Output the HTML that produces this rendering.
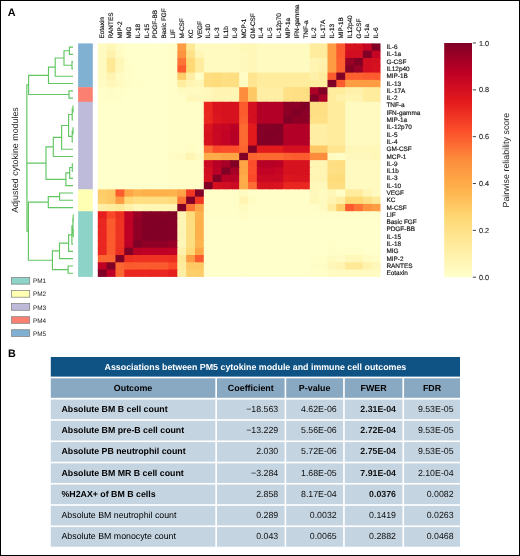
<!DOCTYPE html>
<html><head><meta charset="utf-8"><style>
html,body{margin:0;padding:0;background:#fff;}
body{width:520px;height:556px;position:relative;overflow:hidden;font-family:"Liberation Sans",sans-serif;}
svg{position:absolute;left:0;top:0;font-family:"Liberation Sans",sans-serif;will-change:transform;text-rendering:geometricPrecision;}
.frame{position:absolute;left:0;top:0;width:518px;height:554px;border:1px solid #000;}
</style></head><body>
<svg width="520" height="556" viewBox="0 0 520 556">
<defs><linearGradient id="cb" x1="0" y1="0" x2="0" y2="1"><stop offset="0.0000" stop-color="#800026"/><stop offset="0.1250" stop-color="#bd0026"/><stop offset="0.2500" stop-color="#e31a1c"/><stop offset="0.3750" stop-color="#fc4e2a"/><stop offset="0.5000" stop-color="#fd8d3c"/><stop offset="0.6250" stop-color="#feb24c"/><stop offset="0.7500" stop-color="#fed976"/><stop offset="0.8750" stop-color="#ffeda0"/><stop offset="1.0000" stop-color="#ffffcc"/></linearGradient></defs>
<rect x="97.80" y="43.40" width="9.83" height="8.30" fill="#fffac0"/>
<rect x="106.63" y="43.40" width="9.83" height="8.30" fill="#fff7b7"/>
<rect x="115.47" y="43.40" width="9.83" height="8.30" fill="#fffcc5"/>
<rect x="124.30" y="43.40" width="9.83" height="8.30" fill="#ffffcb"/>
<rect x="133.14" y="43.40" width="9.83" height="8.30" fill="#ffffcb"/>
<rect x="141.97" y="43.40" width="9.83" height="8.30" fill="#ffffcb"/>
<rect x="150.81" y="43.40" width="9.83" height="8.30" fill="#ffffcb"/>
<rect x="159.64" y="43.40" width="9.83" height="8.30" fill="#ffffcb"/>
<rect x="168.47" y="43.40" width="9.83" height="8.30" fill="#fffec9"/>
<rect x="177.31" y="43.40" width="9.83" height="8.30" fill="#fd9c42"/>
<rect x="186.14" y="43.40" width="9.83" height="8.30" fill="#ffe997"/>
<rect x="194.98" y="43.40" width="9.83" height="8.30" fill="#fffac0"/>
<rect x="203.81" y="43.40" width="9.83" height="8.30" fill="#fffac0"/>
<rect x="212.65" y="43.40" width="9.83" height="8.30" fill="#fffac0"/>
<rect x="221.48" y="43.40" width="9.83" height="8.30" fill="#fffac0"/>
<rect x="230.32" y="43.40" width="9.83" height="8.30" fill="#fffac0"/>
<rect x="239.15" y="43.40" width="9.83" height="8.30" fill="#fff7b7"/>
<rect x="247.98" y="43.40" width="9.83" height="8.30" fill="#fff7b7"/>
<rect x="256.82" y="43.40" width="9.83" height="8.30" fill="#fffac0"/>
<rect x="265.65" y="43.40" width="9.83" height="8.30" fill="#fffac0"/>
<rect x="274.49" y="43.40" width="9.83" height="8.30" fill="#fffac0"/>
<rect x="283.32" y="43.40" width="9.83" height="8.30" fill="#fffac0"/>
<rect x="292.16" y="43.40" width="9.83" height="8.30" fill="#fffac0"/>
<rect x="300.99" y="43.40" width="9.83" height="8.30" fill="#fffac0"/>
<rect x="309.82" y="43.40" width="9.83" height="8.30" fill="#ffec9d"/>
<rect x="318.66" y="43.40" width="9.83" height="8.30" fill="#ffec9d"/>
<rect x="327.49" y="43.40" width="9.83" height="8.30" fill="#fd9c42"/>
<rect x="336.33" y="43.40" width="9.83" height="8.30" fill="#fc5b2e"/>
<rect x="345.16" y="43.40" width="9.83" height="8.30" fill="#d7121f"/>
<rect x="354.00" y="43.40" width="9.83" height="8.30" fill="#d41020"/>
<rect x="362.83" y="43.40" width="9.83" height="8.30" fill="#c50524"/>
<rect x="371.67" y="43.40" width="8.83" height="8.30" fill="#800026"/>
<rect x="97.80" y="50.70" width="9.83" height="8.30" fill="#fffac0"/>
<rect x="106.63" y="50.70" width="9.83" height="8.30" fill="#fff2ad"/>
<rect x="115.47" y="50.70" width="9.83" height="8.30" fill="#fffbc2"/>
<rect x="124.30" y="50.70" width="9.83" height="8.30" fill="#ffffcb"/>
<rect x="133.14" y="50.70" width="9.83" height="8.30" fill="#ffffcb"/>
<rect x="141.97" y="50.70" width="9.83" height="8.30" fill="#ffffcb"/>
<rect x="150.81" y="50.70" width="9.83" height="8.30" fill="#ffffcb"/>
<rect x="159.64" y="50.70" width="9.83" height="8.30" fill="#ffffcb"/>
<rect x="168.47" y="50.70" width="9.83" height="8.30" fill="#fffec9"/>
<rect x="177.31" y="50.70" width="9.83" height="8.30" fill="#fd933f"/>
<rect x="186.14" y="50.70" width="9.83" height="8.30" fill="#fee187"/>
<rect x="194.98" y="50.70" width="9.83" height="8.30" fill="#fff5b4"/>
<rect x="203.81" y="50.70" width="9.83" height="8.30" fill="#fffac0"/>
<rect x="212.65" y="50.70" width="9.83" height="8.30" fill="#fffac0"/>
<rect x="221.48" y="50.70" width="9.83" height="8.30" fill="#fffac0"/>
<rect x="230.32" y="50.70" width="9.83" height="8.30" fill="#fffac0"/>
<rect x="239.15" y="50.70" width="9.83" height="8.30" fill="#fff8bc"/>
<rect x="247.98" y="50.70" width="9.83" height="8.30" fill="#fff7b7"/>
<rect x="256.82" y="50.70" width="9.83" height="8.30" fill="#fffac0"/>
<rect x="265.65" y="50.70" width="9.83" height="8.30" fill="#fffac0"/>
<rect x="274.49" y="50.70" width="9.83" height="8.30" fill="#fffac0"/>
<rect x="283.32" y="50.70" width="9.83" height="8.30" fill="#fffac0"/>
<rect x="292.16" y="50.70" width="9.83" height="8.30" fill="#fffac0"/>
<rect x="300.99" y="50.70" width="9.83" height="8.30" fill="#fffac0"/>
<rect x="309.82" y="50.70" width="9.83" height="8.30" fill="#ffec9d"/>
<rect x="318.66" y="50.70" width="9.83" height="8.30" fill="#ffec9d"/>
<rect x="327.49" y="50.70" width="9.83" height="8.30" fill="#fd9c42"/>
<rect x="336.33" y="50.70" width="9.83" height="8.30" fill="#fc5b2e"/>
<rect x="345.16" y="50.70" width="9.83" height="8.30" fill="#d10e21"/>
<rect x="354.00" y="50.70" width="9.83" height="8.30" fill="#d10e21"/>
<rect x="362.83" y="50.70" width="9.83" height="8.30" fill="#800026"/>
<rect x="371.67" y="50.70" width="8.83" height="8.30" fill="#c50524"/>
<rect x="97.80" y="57.99" width="9.83" height="8.30" fill="#fffac0"/>
<rect x="106.63" y="57.99" width="9.83" height="8.30" fill="#ffe997"/>
<rect x="115.47" y="57.99" width="9.83" height="8.30" fill="#fff7b7"/>
<rect x="124.30" y="57.99" width="9.83" height="8.30" fill="#fffec8"/>
<rect x="133.14" y="57.99" width="9.83" height="8.30" fill="#ffffcb"/>
<rect x="141.97" y="57.99" width="9.83" height="8.30" fill="#ffffcb"/>
<rect x="150.81" y="57.99" width="9.83" height="8.30" fill="#ffffcb"/>
<rect x="159.64" y="57.99" width="9.83" height="8.30" fill="#ffffcb"/>
<rect x="168.47" y="57.99" width="9.83" height="8.30" fill="#fffec9"/>
<rect x="177.31" y="57.99" width="9.83" height="8.30" fill="#fd7435"/>
<rect x="186.14" y="57.99" width="9.83" height="8.30" fill="#fed976"/>
<rect x="194.98" y="57.99" width="9.83" height="8.30" fill="#ffec9d"/>
<rect x="203.81" y="57.99" width="9.83" height="8.30" fill="#fffac0"/>
<rect x="212.65" y="57.99" width="9.83" height="8.30" fill="#fffac0"/>
<rect x="221.48" y="57.99" width="9.83" height="8.30" fill="#fffac0"/>
<rect x="230.32" y="57.99" width="9.83" height="8.30" fill="#fffac0"/>
<rect x="239.15" y="57.99" width="9.83" height="8.30" fill="#fff8bc"/>
<rect x="247.98" y="57.99" width="9.83" height="8.30" fill="#fff7b7"/>
<rect x="256.82" y="57.99" width="9.83" height="8.30" fill="#fffac0"/>
<rect x="265.65" y="57.99" width="9.83" height="8.30" fill="#fffac0"/>
<rect x="274.49" y="57.99" width="9.83" height="8.30" fill="#fffac0"/>
<rect x="283.32" y="57.99" width="9.83" height="8.30" fill="#fffac0"/>
<rect x="292.16" y="57.99" width="9.83" height="8.30" fill="#fffac0"/>
<rect x="300.99" y="57.99" width="9.83" height="8.30" fill="#fffac0"/>
<rect x="309.82" y="57.99" width="9.83" height="8.30" fill="#fff4b1"/>
<rect x="318.66" y="57.99" width="9.83" height="8.30" fill="#fff2ad"/>
<rect x="327.49" y="57.99" width="9.83" height="8.30" fill="#fd9c42"/>
<rect x="336.33" y="57.99" width="9.83" height="8.30" fill="#fc602f"/>
<rect x="345.16" y="57.99" width="9.83" height="8.30" fill="#980026"/>
<rect x="354.00" y="57.99" width="9.83" height="8.30" fill="#800026"/>
<rect x="362.83" y="57.99" width="9.83" height="8.30" fill="#d10e21"/>
<rect x="371.67" y="57.99" width="8.83" height="8.30" fill="#d41020"/>
<rect x="97.80" y="65.29" width="9.83" height="8.30" fill="#fffac0"/>
<rect x="106.63" y="65.29" width="9.83" height="8.30" fill="#ffe997"/>
<rect x="115.47" y="65.29" width="9.83" height="8.30" fill="#fff8bb"/>
<rect x="124.30" y="65.29" width="9.83" height="8.30" fill="#fffec8"/>
<rect x="133.14" y="65.29" width="9.83" height="8.30" fill="#ffffcb"/>
<rect x="141.97" y="65.29" width="9.83" height="8.30" fill="#ffffcb"/>
<rect x="150.81" y="65.29" width="9.83" height="8.30" fill="#ffffcb"/>
<rect x="159.64" y="65.29" width="9.83" height="8.30" fill="#ffffcb"/>
<rect x="168.47" y="65.29" width="9.83" height="8.30" fill="#fffec9"/>
<rect x="177.31" y="65.29" width="9.83" height="8.30" fill="#fc5b2e"/>
<rect x="186.14" y="65.29" width="9.83" height="8.30" fill="#fed976"/>
<rect x="194.98" y="65.29" width="9.83" height="8.30" fill="#ffec9d"/>
<rect x="203.81" y="65.29" width="9.83" height="8.30" fill="#fffac0"/>
<rect x="212.65" y="65.29" width="9.83" height="8.30" fill="#fffac0"/>
<rect x="221.48" y="65.29" width="9.83" height="8.30" fill="#fffac0"/>
<rect x="230.32" y="65.29" width="9.83" height="8.30" fill="#fffac0"/>
<rect x="239.15" y="65.29" width="9.83" height="8.30" fill="#fff8bc"/>
<rect x="247.98" y="65.29" width="9.83" height="8.30" fill="#fff7b7"/>
<rect x="256.82" y="65.29" width="9.83" height="8.30" fill="#fffac0"/>
<rect x="265.65" y="65.29" width="9.83" height="8.30" fill="#fffac0"/>
<rect x="274.49" y="65.29" width="9.83" height="8.30" fill="#fffac0"/>
<rect x="283.32" y="65.29" width="9.83" height="8.30" fill="#fffac0"/>
<rect x="292.16" y="65.29" width="9.83" height="8.30" fill="#fffac0"/>
<rect x="300.99" y="65.29" width="9.83" height="8.30" fill="#fffac0"/>
<rect x="309.82" y="65.29" width="9.83" height="8.30" fill="#fff4b1"/>
<rect x="318.66" y="65.29" width="9.83" height="8.30" fill="#fff1a9"/>
<rect x="327.49" y="65.29" width="9.83" height="8.30" fill="#fd9c42"/>
<rect x="336.33" y="65.29" width="9.83" height="8.30" fill="#fc602f"/>
<rect x="345.16" y="65.29" width="9.83" height="8.30" fill="#800026"/>
<rect x="354.00" y="65.29" width="9.83" height="8.30" fill="#980026"/>
<rect x="362.83" y="65.29" width="9.83" height="8.30" fill="#d10e21"/>
<rect x="371.67" y="65.29" width="8.83" height="8.30" fill="#d7121f"/>
<rect x="97.80" y="72.59" width="9.83" height="8.30" fill="#fffac0"/>
<rect x="106.63" y="72.59" width="9.83" height="8.30" fill="#fff4b1"/>
<rect x="115.47" y="72.59" width="9.83" height="8.30" fill="#fffbc2"/>
<rect x="124.30" y="72.59" width="9.83" height="8.30" fill="#fffec8"/>
<rect x="133.14" y="72.59" width="9.83" height="8.30" fill="#ffffcb"/>
<rect x="141.97" y="72.59" width="9.83" height="8.30" fill="#ffffcb"/>
<rect x="150.81" y="72.59" width="9.83" height="8.30" fill="#ffffcb"/>
<rect x="159.64" y="72.59" width="9.83" height="8.30" fill="#ffffcb"/>
<rect x="168.47" y="72.59" width="9.83" height="8.30" fill="#fffec9"/>
<rect x="177.31" y="72.59" width="9.83" height="8.30" fill="#fecd69"/>
<rect x="186.14" y="72.59" width="9.83" height="8.30" fill="#ffeea3"/>
<rect x="194.98" y="72.59" width="9.83" height="8.30" fill="#fffdc8"/>
<rect x="203.81" y="72.59" width="9.83" height="8.30" fill="#fede80"/>
<rect x="212.65" y="72.59" width="9.83" height="8.30" fill="#fedb7b"/>
<rect x="221.48" y="72.59" width="9.83" height="8.30" fill="#fedf83"/>
<rect x="230.32" y="72.59" width="9.83" height="8.30" fill="#fede80"/>
<rect x="239.15" y="72.59" width="9.83" height="8.30" fill="#fffcc5"/>
<rect x="247.98" y="72.59" width="9.83" height="8.30" fill="#ffe590"/>
<rect x="256.82" y="72.59" width="9.83" height="8.30" fill="#ffec9d"/>
<rect x="265.65" y="72.59" width="9.83" height="8.30" fill="#ffec9d"/>
<rect x="274.49" y="72.59" width="9.83" height="8.30" fill="#ffec9d"/>
<rect x="283.32" y="72.59" width="9.83" height="8.30" fill="#ffec9d"/>
<rect x="292.16" y="72.59" width="9.83" height="8.30" fill="#ffec9d"/>
<rect x="300.99" y="72.59" width="9.83" height="8.30" fill="#ffec9d"/>
<rect x="309.82" y="72.59" width="9.83" height="8.30" fill="#fff1a9"/>
<rect x="318.66" y="72.59" width="9.83" height="8.30" fill="#ffec9d"/>
<rect x="327.49" y="72.59" width="9.83" height="8.30" fill="#fc5b2e"/>
<rect x="336.33" y="72.59" width="9.83" height="8.30" fill="#800026"/>
<rect x="345.16" y="72.59" width="9.83" height="8.30" fill="#fc602f"/>
<rect x="354.00" y="72.59" width="9.83" height="8.30" fill="#fc602f"/>
<rect x="362.83" y="72.59" width="9.83" height="8.30" fill="#fc5b2e"/>
<rect x="371.67" y="72.59" width="8.83" height="8.30" fill="#fc5b2e"/>
<rect x="97.80" y="79.88" width="9.83" height="8.30" fill="#fffbc2"/>
<rect x="106.63" y="79.88" width="9.83" height="8.30" fill="#fff7b9"/>
<rect x="115.47" y="79.88" width="9.83" height="8.30" fill="#fffabf"/>
<rect x="124.30" y="79.88" width="9.83" height="8.30" fill="#fffdc7"/>
<rect x="133.14" y="79.88" width="9.83" height="8.30" fill="#fffec8"/>
<rect x="141.97" y="79.88" width="9.83" height="8.30" fill="#ffffcb"/>
<rect x="150.81" y="79.88" width="9.83" height="8.30" fill="#ffffcb"/>
<rect x="159.64" y="79.88" width="9.83" height="8.30" fill="#ffffcb"/>
<rect x="168.47" y="79.88" width="9.83" height="8.30" fill="#fffec9"/>
<rect x="177.31" y="79.88" width="9.83" height="8.30" fill="#ffec9d"/>
<rect x="186.14" y="79.88" width="9.83" height="8.30" fill="#fff4b1"/>
<rect x="194.98" y="79.88" width="9.83" height="8.30" fill="#fff7b7"/>
<rect x="203.81" y="79.88" width="9.83" height="8.30" fill="#fede80"/>
<rect x="212.65" y="79.88" width="9.83" height="8.30" fill="#fedb7b"/>
<rect x="221.48" y="79.88" width="9.83" height="8.30" fill="#fedf83"/>
<rect x="230.32" y="79.88" width="9.83" height="8.30" fill="#fedf83"/>
<rect x="239.15" y="79.88" width="9.83" height="8.30" fill="#fffac0"/>
<rect x="247.98" y="79.88" width="9.83" height="8.30" fill="#ffe590"/>
<rect x="256.82" y="79.88" width="9.83" height="8.30" fill="#ffec9d"/>
<rect x="265.65" y="79.88" width="9.83" height="8.30" fill="#ffec9d"/>
<rect x="274.49" y="79.88" width="9.83" height="8.30" fill="#ffec9d"/>
<rect x="283.32" y="79.88" width="9.83" height="8.30" fill="#ffec9d"/>
<rect x="292.16" y="79.88" width="9.83" height="8.30" fill="#ffec9d"/>
<rect x="300.99" y="79.88" width="9.83" height="8.30" fill="#ffec9d"/>
<rect x="309.82" y="79.88" width="9.83" height="8.30" fill="#ffec9d"/>
<rect x="318.66" y="79.88" width="9.83" height="8.30" fill="#ffec9d"/>
<rect x="327.49" y="79.88" width="9.83" height="8.30" fill="#800026"/>
<rect x="336.33" y="79.88" width="9.83" height="8.30" fill="#fc5b2e"/>
<rect x="345.16" y="79.88" width="9.83" height="8.30" fill="#fd9c42"/>
<rect x="354.00" y="79.88" width="9.83" height="8.30" fill="#fd9c42"/>
<rect x="362.83" y="79.88" width="9.83" height="8.30" fill="#fd9c42"/>
<rect x="371.67" y="79.88" width="8.83" height="8.30" fill="#fd9c42"/>
<rect x="97.80" y="87.18" width="9.83" height="8.30" fill="#fffec8"/>
<rect x="106.63" y="87.18" width="9.83" height="8.30" fill="#fffdc6"/>
<rect x="115.47" y="87.18" width="9.83" height="8.30" fill="#fffec8"/>
<rect x="124.30" y="87.18" width="9.83" height="8.30" fill="#ffffcb"/>
<rect x="133.14" y="87.18" width="9.83" height="8.30" fill="#ffffcb"/>
<rect x="141.97" y="87.18" width="9.83" height="8.30" fill="#ffffcb"/>
<rect x="150.81" y="87.18" width="9.83" height="8.30" fill="#ffffcb"/>
<rect x="159.64" y="87.18" width="9.83" height="8.30" fill="#ffffcb"/>
<rect x="168.47" y="87.18" width="9.83" height="8.30" fill="#fffec9"/>
<rect x="177.31" y="87.18" width="9.83" height="8.30" fill="#fffac0"/>
<rect x="186.14" y="87.18" width="9.83" height="8.30" fill="#fffac0"/>
<rect x="194.98" y="87.18" width="9.83" height="8.30" fill="#fffac0"/>
<rect x="203.81" y="87.18" width="9.83" height="8.30" fill="#fff8bc"/>
<rect x="212.65" y="87.18" width="9.83" height="8.30" fill="#fff4b1"/>
<rect x="221.48" y="87.18" width="9.83" height="8.30" fill="#fff4b1"/>
<rect x="230.32" y="87.18" width="9.83" height="8.30" fill="#fff5b4"/>
<rect x="239.15" y="87.18" width="9.83" height="8.30" fill="#fd8d3c"/>
<rect x="247.98" y="87.18" width="9.83" height="8.30" fill="#fec965"/>
<rect x="256.82" y="87.18" width="9.83" height="8.30" fill="#ffeea3"/>
<rect x="265.65" y="87.18" width="9.83" height="8.30" fill="#ffeea3"/>
<rect x="274.49" y="87.18" width="9.83" height="8.30" fill="#ffeea3"/>
<rect x="283.32" y="87.18" width="9.83" height="8.30" fill="#fee187"/>
<rect x="292.16" y="87.18" width="9.83" height="8.30" fill="#fedf83"/>
<rect x="300.99" y="87.18" width="9.83" height="8.30" fill="#fedf83"/>
<rect x="309.82" y="87.18" width="9.83" height="8.30" fill="#ac0026"/>
<rect x="318.66" y="87.18" width="9.83" height="8.30" fill="#800026"/>
<rect x="327.49" y="87.18" width="9.83" height="8.30" fill="#ffec9d"/>
<rect x="336.33" y="87.18" width="9.83" height="8.30" fill="#ffec9d"/>
<rect x="345.16" y="87.18" width="9.83" height="8.30" fill="#fff1a9"/>
<rect x="354.00" y="87.18" width="9.83" height="8.30" fill="#fff2ad"/>
<rect x="362.83" y="87.18" width="9.83" height="8.30" fill="#ffec9d"/>
<rect x="371.67" y="87.18" width="8.83" height="8.30" fill="#ffec9d"/>
<rect x="97.80" y="94.48" width="9.83" height="8.30" fill="#fffec8"/>
<rect x="106.63" y="94.48" width="9.83" height="8.30" fill="#fffdc7"/>
<rect x="115.47" y="94.48" width="9.83" height="8.30" fill="#fffec8"/>
<rect x="124.30" y="94.48" width="9.83" height="8.30" fill="#ffffcb"/>
<rect x="133.14" y="94.48" width="9.83" height="8.30" fill="#ffffcb"/>
<rect x="141.97" y="94.48" width="9.83" height="8.30" fill="#ffffcb"/>
<rect x="150.81" y="94.48" width="9.83" height="8.30" fill="#ffffcb"/>
<rect x="159.64" y="94.48" width="9.83" height="8.30" fill="#ffffcb"/>
<rect x="168.47" y="94.48" width="9.83" height="8.30" fill="#fffec9"/>
<rect x="177.31" y="94.48" width="9.83" height="8.30" fill="#fffdc7"/>
<rect x="186.14" y="94.48" width="9.83" height="8.30" fill="#fff7b7"/>
<rect x="194.98" y="94.48" width="9.83" height="8.30" fill="#fff8bc"/>
<rect x="203.81" y="94.48" width="9.83" height="8.30" fill="#fff7b9"/>
<rect x="212.65" y="94.48" width="9.83" height="8.30" fill="#fff4b1"/>
<rect x="221.48" y="94.48" width="9.83" height="8.30" fill="#fff5b4"/>
<rect x="230.32" y="94.48" width="9.83" height="8.30" fill="#fff5b4"/>
<rect x="239.15" y="94.48" width="9.83" height="8.30" fill="#fd8d3c"/>
<rect x="247.98" y="94.48" width="9.83" height="8.30" fill="#fec965"/>
<rect x="256.82" y="94.48" width="9.83" height="8.30" fill="#ffeea3"/>
<rect x="265.65" y="94.48" width="9.83" height="8.30" fill="#ffeea3"/>
<rect x="274.49" y="94.48" width="9.83" height="8.30" fill="#ffeea3"/>
<rect x="283.32" y="94.48" width="9.83" height="8.30" fill="#fee187"/>
<rect x="292.16" y="94.48" width="9.83" height="8.30" fill="#fedf83"/>
<rect x="300.99" y="94.48" width="9.83" height="8.30" fill="#fedf83"/>
<rect x="309.82" y="94.48" width="9.83" height="8.30" fill="#800026"/>
<rect x="318.66" y="94.48" width="9.83" height="8.30" fill="#ac0026"/>
<rect x="327.49" y="94.48" width="9.83" height="8.30" fill="#ffec9d"/>
<rect x="336.33" y="94.48" width="9.83" height="8.30" fill="#fff1a9"/>
<rect x="345.16" y="94.48" width="9.83" height="8.30" fill="#fff4b1"/>
<rect x="354.00" y="94.48" width="9.83" height="8.30" fill="#fff4b1"/>
<rect x="362.83" y="94.48" width="9.83" height="8.30" fill="#ffec9d"/>
<rect x="371.67" y="94.48" width="8.83" height="8.30" fill="#ffec9d"/>
<rect x="97.80" y="101.77" width="9.83" height="8.30" fill="#ffffcb"/>
<rect x="106.63" y="101.77" width="9.83" height="8.30" fill="#ffffcb"/>
<rect x="115.47" y="101.77" width="9.83" height="8.30" fill="#ffffcb"/>
<rect x="124.30" y="101.77" width="9.83" height="8.30" fill="#ffffcb"/>
<rect x="133.14" y="101.77" width="9.83" height="8.30" fill="#ffffcb"/>
<rect x="141.97" y="101.77" width="9.83" height="8.30" fill="#ffffcb"/>
<rect x="150.81" y="101.77" width="9.83" height="8.30" fill="#ffffcb"/>
<rect x="159.64" y="101.77" width="9.83" height="8.30" fill="#ffffcb"/>
<rect x="168.47" y="101.77" width="9.83" height="8.30" fill="#fffec9"/>
<rect x="177.31" y="101.77" width="9.83" height="8.30" fill="#fffec9"/>
<rect x="186.14" y="101.77" width="9.83" height="8.30" fill="#fffec9"/>
<rect x="194.98" y="101.77" width="9.83" height="8.30" fill="#fffec9"/>
<rect x="203.81" y="101.77" width="9.83" height="8.30" fill="#e9261f"/>
<rect x="212.65" y="101.77" width="9.83" height="8.30" fill="#da141e"/>
<rect x="221.48" y="101.77" width="9.83" height="8.30" fill="#d7121f"/>
<rect x="230.32" y="101.77" width="9.83" height="8.30" fill="#d7121f"/>
<rect x="239.15" y="101.77" width="9.83" height="8.30" fill="#fc5b2e"/>
<rect x="247.98" y="101.77" width="9.83" height="8.30" fill="#d41020"/>
<rect x="256.82" y="101.77" width="9.83" height="8.30" fill="#b30026"/>
<rect x="265.65" y="101.77" width="9.83" height="8.30" fill="#b30026"/>
<rect x="274.49" y="101.77" width="9.83" height="8.30" fill="#b30026"/>
<rect x="283.32" y="101.77" width="9.83" height="8.30" fill="#8c0026"/>
<rect x="292.16" y="101.77" width="9.83" height="8.30" fill="#8a0026"/>
<rect x="300.99" y="101.77" width="9.83" height="8.30" fill="#800026"/>
<rect x="309.82" y="101.77" width="9.83" height="8.30" fill="#fedf83"/>
<rect x="318.66" y="101.77" width="9.83" height="8.30" fill="#fedf83"/>
<rect x="327.49" y="101.77" width="9.83" height="8.30" fill="#ffec9d"/>
<rect x="336.33" y="101.77" width="9.83" height="8.30" fill="#ffec9d"/>
<rect x="345.16" y="101.77" width="9.83" height="8.30" fill="#fffac0"/>
<rect x="354.00" y="101.77" width="9.83" height="8.30" fill="#fffac0"/>
<rect x="362.83" y="101.77" width="9.83" height="8.30" fill="#fffac0"/>
<rect x="371.67" y="101.77" width="8.83" height="8.30" fill="#fffac0"/>
<rect x="97.80" y="109.07" width="9.83" height="8.30" fill="#ffffcb"/>
<rect x="106.63" y="109.07" width="9.83" height="8.30" fill="#ffffcb"/>
<rect x="115.47" y="109.07" width="9.83" height="8.30" fill="#ffffcb"/>
<rect x="124.30" y="109.07" width="9.83" height="8.30" fill="#ffffcb"/>
<rect x="133.14" y="109.07" width="9.83" height="8.30" fill="#ffffcb"/>
<rect x="141.97" y="109.07" width="9.83" height="8.30" fill="#ffffcb"/>
<rect x="150.81" y="109.07" width="9.83" height="8.30" fill="#ffffcb"/>
<rect x="159.64" y="109.07" width="9.83" height="8.30" fill="#ffffcb"/>
<rect x="168.47" y="109.07" width="9.83" height="8.30" fill="#fffec9"/>
<rect x="177.31" y="109.07" width="9.83" height="8.30" fill="#fffec9"/>
<rect x="186.14" y="109.07" width="9.83" height="8.30" fill="#fffec9"/>
<rect x="194.98" y="109.07" width="9.83" height="8.30" fill="#fffec9"/>
<rect x="203.81" y="109.07" width="9.83" height="8.30" fill="#e9261f"/>
<rect x="212.65" y="109.07" width="9.83" height="8.30" fill="#da141e"/>
<rect x="221.48" y="109.07" width="9.83" height="8.30" fill="#d7121f"/>
<rect x="230.32" y="109.07" width="9.83" height="8.30" fill="#d7121f"/>
<rect x="239.15" y="109.07" width="9.83" height="8.30" fill="#fc5b2e"/>
<rect x="247.98" y="109.07" width="9.83" height="8.30" fill="#d41020"/>
<rect x="256.82" y="109.07" width="9.83" height="8.30" fill="#b30026"/>
<rect x="265.65" y="109.07" width="9.83" height="8.30" fill="#b30026"/>
<rect x="274.49" y="109.07" width="9.83" height="8.30" fill="#b30026"/>
<rect x="283.32" y="109.07" width="9.83" height="8.30" fill="#8c0026"/>
<rect x="292.16" y="109.07" width="9.83" height="8.30" fill="#800026"/>
<rect x="300.99" y="109.07" width="9.83" height="8.30" fill="#8a0026"/>
<rect x="309.82" y="109.07" width="9.83" height="8.30" fill="#fedf83"/>
<rect x="318.66" y="109.07" width="9.83" height="8.30" fill="#fedf83"/>
<rect x="327.49" y="109.07" width="9.83" height="8.30" fill="#ffec9d"/>
<rect x="336.33" y="109.07" width="9.83" height="8.30" fill="#ffec9d"/>
<rect x="345.16" y="109.07" width="9.83" height="8.30" fill="#fffac0"/>
<rect x="354.00" y="109.07" width="9.83" height="8.30" fill="#fffac0"/>
<rect x="362.83" y="109.07" width="9.83" height="8.30" fill="#fffac0"/>
<rect x="371.67" y="109.07" width="8.83" height="8.30" fill="#fffac0"/>
<rect x="97.80" y="116.37" width="9.83" height="8.30" fill="#ffffcb"/>
<rect x="106.63" y="116.37" width="9.83" height="8.30" fill="#ffffcb"/>
<rect x="115.47" y="116.37" width="9.83" height="8.30" fill="#ffffcb"/>
<rect x="124.30" y="116.37" width="9.83" height="8.30" fill="#ffffcb"/>
<rect x="133.14" y="116.37" width="9.83" height="8.30" fill="#ffffcb"/>
<rect x="141.97" y="116.37" width="9.83" height="8.30" fill="#ffffcb"/>
<rect x="150.81" y="116.37" width="9.83" height="8.30" fill="#ffffcb"/>
<rect x="159.64" y="116.37" width="9.83" height="8.30" fill="#ffffcb"/>
<rect x="168.47" y="116.37" width="9.83" height="8.30" fill="#fffec9"/>
<rect x="177.31" y="116.37" width="9.83" height="8.30" fill="#fffec9"/>
<rect x="186.14" y="116.37" width="9.83" height="8.30" fill="#fffec9"/>
<rect x="194.98" y="116.37" width="9.83" height="8.30" fill="#fffec9"/>
<rect x="203.81" y="116.37" width="9.83" height="8.30" fill="#e9261f"/>
<rect x="212.65" y="116.37" width="9.83" height="8.30" fill="#dd161e"/>
<rect x="221.48" y="116.37" width="9.83" height="8.30" fill="#d7121f"/>
<rect x="230.32" y="116.37" width="9.83" height="8.30" fill="#d7121f"/>
<rect x="239.15" y="116.37" width="9.83" height="8.30" fill="#fc602f"/>
<rect x="247.98" y="116.37" width="9.83" height="8.30" fill="#d41020"/>
<rect x="256.82" y="116.37" width="9.83" height="8.30" fill="#b30026"/>
<rect x="265.65" y="116.37" width="9.83" height="8.30" fill="#b30026"/>
<rect x="274.49" y="116.37" width="9.83" height="8.30" fill="#b30026"/>
<rect x="283.32" y="116.37" width="9.83" height="8.30" fill="#800026"/>
<rect x="292.16" y="116.37" width="9.83" height="8.30" fill="#8c0026"/>
<rect x="300.99" y="116.37" width="9.83" height="8.30" fill="#8c0026"/>
<rect x="309.82" y="116.37" width="9.83" height="8.30" fill="#fee187"/>
<rect x="318.66" y="116.37" width="9.83" height="8.30" fill="#fee187"/>
<rect x="327.49" y="116.37" width="9.83" height="8.30" fill="#ffec9d"/>
<rect x="336.33" y="116.37" width="9.83" height="8.30" fill="#ffec9d"/>
<rect x="345.16" y="116.37" width="9.83" height="8.30" fill="#fffac0"/>
<rect x="354.00" y="116.37" width="9.83" height="8.30" fill="#fffac0"/>
<rect x="362.83" y="116.37" width="9.83" height="8.30" fill="#fffac0"/>
<rect x="371.67" y="116.37" width="8.83" height="8.30" fill="#fffac0"/>
<rect x="97.80" y="123.67" width="9.83" height="8.30" fill="#ffffcb"/>
<rect x="106.63" y="123.67" width="9.83" height="8.30" fill="#ffffcb"/>
<rect x="115.47" y="123.67" width="9.83" height="8.30" fill="#ffffcb"/>
<rect x="124.30" y="123.67" width="9.83" height="8.30" fill="#ffffcb"/>
<rect x="133.14" y="123.67" width="9.83" height="8.30" fill="#ffffcb"/>
<rect x="141.97" y="123.67" width="9.83" height="8.30" fill="#ffffcb"/>
<rect x="150.81" y="123.67" width="9.83" height="8.30" fill="#ffffcb"/>
<rect x="159.64" y="123.67" width="9.83" height="8.30" fill="#ffffcb"/>
<rect x="168.47" y="123.67" width="9.83" height="8.30" fill="#fffec9"/>
<rect x="177.31" y="123.67" width="9.83" height="8.30" fill="#fffec9"/>
<rect x="186.14" y="123.67" width="9.83" height="8.30" fill="#fffec9"/>
<rect x="194.98" y="123.67" width="9.83" height="8.30" fill="#fffec9"/>
<rect x="203.81" y="123.67" width="9.83" height="8.30" fill="#da141e"/>
<rect x="212.65" y="123.67" width="9.83" height="8.30" fill="#c90823"/>
<rect x="221.48" y="123.67" width="9.83" height="8.30" fill="#c60624"/>
<rect x="230.32" y="123.67" width="9.83" height="8.30" fill="#bb0026"/>
<rect x="239.15" y="123.67" width="9.83" height="8.30" fill="#fc6a32"/>
<rect x="247.98" y="123.67" width="9.83" height="8.30" fill="#e31a1c"/>
<rect x="256.82" y="123.67" width="9.83" height="8.30" fill="#850026"/>
<rect x="265.65" y="123.67" width="9.83" height="8.30" fill="#850026"/>
<rect x="274.49" y="123.67" width="9.83" height="8.30" fill="#800026"/>
<rect x="283.32" y="123.67" width="9.83" height="8.30" fill="#b30026"/>
<rect x="292.16" y="123.67" width="9.83" height="8.30" fill="#b30026"/>
<rect x="300.99" y="123.67" width="9.83" height="8.30" fill="#b30026"/>
<rect x="309.82" y="123.67" width="9.83" height="8.30" fill="#ffeea3"/>
<rect x="318.66" y="123.67" width="9.83" height="8.30" fill="#ffeea3"/>
<rect x="327.49" y="123.67" width="9.83" height="8.30" fill="#ffec9d"/>
<rect x="336.33" y="123.67" width="9.83" height="8.30" fill="#ffec9d"/>
<rect x="345.16" y="123.67" width="9.83" height="8.30" fill="#fffac0"/>
<rect x="354.00" y="123.67" width="9.83" height="8.30" fill="#fffac0"/>
<rect x="362.83" y="123.67" width="9.83" height="8.30" fill="#fffac0"/>
<rect x="371.67" y="123.67" width="8.83" height="8.30" fill="#fffac0"/>
<rect x="97.80" y="130.96" width="9.83" height="8.30" fill="#ffffcb"/>
<rect x="106.63" y="130.96" width="9.83" height="8.30" fill="#ffffcb"/>
<rect x="115.47" y="130.96" width="9.83" height="8.30" fill="#ffffcb"/>
<rect x="124.30" y="130.96" width="9.83" height="8.30" fill="#ffffcb"/>
<rect x="133.14" y="130.96" width="9.83" height="8.30" fill="#ffffcb"/>
<rect x="141.97" y="130.96" width="9.83" height="8.30" fill="#ffffcb"/>
<rect x="150.81" y="130.96" width="9.83" height="8.30" fill="#ffffcb"/>
<rect x="159.64" y="130.96" width="9.83" height="8.30" fill="#ffffcb"/>
<rect x="168.47" y="130.96" width="9.83" height="8.30" fill="#fffec9"/>
<rect x="177.31" y="130.96" width="9.83" height="8.30" fill="#fffec9"/>
<rect x="186.14" y="130.96" width="9.83" height="8.30" fill="#fffec9"/>
<rect x="194.98" y="130.96" width="9.83" height="8.30" fill="#fffec9"/>
<rect x="203.81" y="130.96" width="9.83" height="8.30" fill="#d7121f"/>
<rect x="212.65" y="130.96" width="9.83" height="8.30" fill="#c90823"/>
<rect x="221.48" y="130.96" width="9.83" height="8.30" fill="#c20325"/>
<rect x="230.32" y="130.96" width="9.83" height="8.30" fill="#b60026"/>
<rect x="239.15" y="130.96" width="9.83" height="8.30" fill="#fc6a32"/>
<rect x="247.98" y="130.96" width="9.83" height="8.30" fill="#e31a1c"/>
<rect x="256.82" y="130.96" width="9.83" height="8.30" fill="#850026"/>
<rect x="265.65" y="130.96" width="9.83" height="8.30" fill="#800026"/>
<rect x="274.49" y="130.96" width="9.83" height="8.30" fill="#850026"/>
<rect x="283.32" y="130.96" width="9.83" height="8.30" fill="#b30026"/>
<rect x="292.16" y="130.96" width="9.83" height="8.30" fill="#b30026"/>
<rect x="300.99" y="130.96" width="9.83" height="8.30" fill="#b30026"/>
<rect x="309.82" y="130.96" width="9.83" height="8.30" fill="#ffeea3"/>
<rect x="318.66" y="130.96" width="9.83" height="8.30" fill="#ffeea3"/>
<rect x="327.49" y="130.96" width="9.83" height="8.30" fill="#ffec9d"/>
<rect x="336.33" y="130.96" width="9.83" height="8.30" fill="#ffec9d"/>
<rect x="345.16" y="130.96" width="9.83" height="8.30" fill="#fffac0"/>
<rect x="354.00" y="130.96" width="9.83" height="8.30" fill="#fffac0"/>
<rect x="362.83" y="130.96" width="9.83" height="8.30" fill="#fffac0"/>
<rect x="371.67" y="130.96" width="8.83" height="8.30" fill="#fffac0"/>
<rect x="97.80" y="138.26" width="9.83" height="8.30" fill="#ffffcb"/>
<rect x="106.63" y="138.26" width="9.83" height="8.30" fill="#ffffcb"/>
<rect x="115.47" y="138.26" width="9.83" height="8.30" fill="#ffffcb"/>
<rect x="124.30" y="138.26" width="9.83" height="8.30" fill="#ffffcb"/>
<rect x="133.14" y="138.26" width="9.83" height="8.30" fill="#ffffcb"/>
<rect x="141.97" y="138.26" width="9.83" height="8.30" fill="#ffffcb"/>
<rect x="150.81" y="138.26" width="9.83" height="8.30" fill="#ffffcb"/>
<rect x="159.64" y="138.26" width="9.83" height="8.30" fill="#ffffcb"/>
<rect x="168.47" y="138.26" width="9.83" height="8.30" fill="#fffec9"/>
<rect x="177.31" y="138.26" width="9.83" height="8.30" fill="#fffec9"/>
<rect x="186.14" y="138.26" width="9.83" height="8.30" fill="#fffec9"/>
<rect x="194.98" y="138.26" width="9.83" height="8.30" fill="#fffec9"/>
<rect x="203.81" y="138.26" width="9.83" height="8.30" fill="#d7121f"/>
<rect x="212.65" y="138.26" width="9.83" height="8.30" fill="#c90823"/>
<rect x="221.48" y="138.26" width="9.83" height="8.30" fill="#c20325"/>
<rect x="230.32" y="138.26" width="9.83" height="8.30" fill="#b60026"/>
<rect x="239.15" y="138.26" width="9.83" height="8.30" fill="#fc6a32"/>
<rect x="247.98" y="138.26" width="9.83" height="8.30" fill="#e31a1c"/>
<rect x="256.82" y="138.26" width="9.83" height="8.30" fill="#800026"/>
<rect x="265.65" y="138.26" width="9.83" height="8.30" fill="#850026"/>
<rect x="274.49" y="138.26" width="9.83" height="8.30" fill="#850026"/>
<rect x="283.32" y="138.26" width="9.83" height="8.30" fill="#b30026"/>
<rect x="292.16" y="138.26" width="9.83" height="8.30" fill="#b30026"/>
<rect x="300.99" y="138.26" width="9.83" height="8.30" fill="#b30026"/>
<rect x="309.82" y="138.26" width="9.83" height="8.30" fill="#ffeea3"/>
<rect x="318.66" y="138.26" width="9.83" height="8.30" fill="#ffeea3"/>
<rect x="327.49" y="138.26" width="9.83" height="8.30" fill="#ffec9d"/>
<rect x="336.33" y="138.26" width="9.83" height="8.30" fill="#ffec9d"/>
<rect x="345.16" y="138.26" width="9.83" height="8.30" fill="#fffac0"/>
<rect x="354.00" y="138.26" width="9.83" height="8.30" fill="#fffac0"/>
<rect x="362.83" y="138.26" width="9.83" height="8.30" fill="#fffac0"/>
<rect x="371.67" y="138.26" width="8.83" height="8.30" fill="#fffac0"/>
<rect x="97.80" y="145.56" width="9.83" height="8.30" fill="#ffffcb"/>
<rect x="106.63" y="145.56" width="9.83" height="8.30" fill="#ffffcb"/>
<rect x="115.47" y="145.56" width="9.83" height="8.30" fill="#ffffcb"/>
<rect x="124.30" y="145.56" width="9.83" height="8.30" fill="#ffffcb"/>
<rect x="133.14" y="145.56" width="9.83" height="8.30" fill="#ffffcb"/>
<rect x="141.97" y="145.56" width="9.83" height="8.30" fill="#ffffcb"/>
<rect x="150.81" y="145.56" width="9.83" height="8.30" fill="#ffffcb"/>
<rect x="159.64" y="145.56" width="9.83" height="8.30" fill="#ffffcb"/>
<rect x="168.47" y="145.56" width="9.83" height="8.30" fill="#fffec9"/>
<rect x="177.31" y="145.56" width="9.83" height="8.30" fill="#fffec9"/>
<rect x="186.14" y="145.56" width="9.83" height="8.30" fill="#fffcc4"/>
<rect x="194.98" y="145.56" width="9.83" height="8.30" fill="#fffec9"/>
<rect x="203.81" y="145.56" width="9.83" height="8.30" fill="#fc6c33"/>
<rect x="212.65" y="145.56" width="9.83" height="8.30" fill="#fa4a29"/>
<rect x="221.48" y="145.56" width="9.83" height="8.30" fill="#fc4e2a"/>
<rect x="230.32" y="145.56" width="9.83" height="8.30" fill="#fc4e2a"/>
<rect x="239.15" y="145.56" width="9.83" height="8.30" fill="#fc6530"/>
<rect x="247.98" y="145.56" width="9.83" height="8.30" fill="#800026"/>
<rect x="256.82" y="145.56" width="9.83" height="8.30" fill="#e31a1c"/>
<rect x="265.65" y="145.56" width="9.83" height="8.30" fill="#e31a1c"/>
<rect x="274.49" y="145.56" width="9.83" height="8.30" fill="#e31a1c"/>
<rect x="283.32" y="145.56" width="9.83" height="8.30" fill="#d41020"/>
<rect x="292.16" y="145.56" width="9.83" height="8.30" fill="#d41020"/>
<rect x="300.99" y="145.56" width="9.83" height="8.30" fill="#d41020"/>
<rect x="309.82" y="145.56" width="9.83" height="8.30" fill="#fec965"/>
<rect x="318.66" y="145.56" width="9.83" height="8.30" fill="#fec965"/>
<rect x="327.49" y="145.56" width="9.83" height="8.30" fill="#ffe590"/>
<rect x="336.33" y="145.56" width="9.83" height="8.30" fill="#ffe590"/>
<rect x="345.16" y="145.56" width="9.83" height="8.30" fill="#fff7b7"/>
<rect x="354.00" y="145.56" width="9.83" height="8.30" fill="#fff7b7"/>
<rect x="362.83" y="145.56" width="9.83" height="8.30" fill="#fff7b7"/>
<rect x="371.67" y="145.56" width="8.83" height="8.30" fill="#fff7b7"/>
<rect x="97.80" y="152.85" width="9.83" height="8.30" fill="#ffffcb"/>
<rect x="106.63" y="152.85" width="9.83" height="8.30" fill="#ffffcb"/>
<rect x="115.47" y="152.85" width="9.83" height="8.30" fill="#ffffcb"/>
<rect x="124.30" y="152.85" width="9.83" height="8.30" fill="#ffffcb"/>
<rect x="133.14" y="152.85" width="9.83" height="8.30" fill="#ffffcb"/>
<rect x="141.97" y="152.85" width="9.83" height="8.30" fill="#ffffcb"/>
<rect x="150.81" y="152.85" width="9.83" height="8.30" fill="#ffffcb"/>
<rect x="159.64" y="152.85" width="9.83" height="8.30" fill="#ffffcb"/>
<rect x="168.47" y="152.85" width="9.83" height="8.30" fill="#fffcc5"/>
<rect x="177.31" y="152.85" width="9.83" height="8.30" fill="#fffac0"/>
<rect x="186.14" y="152.85" width="9.83" height="8.30" fill="#fff4b1"/>
<rect x="194.98" y="152.85" width="9.83" height="8.30" fill="#fffac0"/>
<rect x="203.81" y="152.85" width="9.83" height="8.30" fill="#feab49"/>
<rect x="212.65" y="152.85" width="9.83" height="8.30" fill="#feab49"/>
<rect x="221.48" y="152.85" width="9.83" height="8.30" fill="#fea546"/>
<rect x="230.32" y="152.85" width="9.83" height="8.30" fill="#fea546"/>
<rect x="239.15" y="152.85" width="9.83" height="8.30" fill="#800026"/>
<rect x="247.98" y="152.85" width="9.83" height="8.30" fill="#fc6530"/>
<rect x="256.82" y="152.85" width="9.83" height="8.30" fill="#fc6a32"/>
<rect x="265.65" y="152.85" width="9.83" height="8.30" fill="#fc6a32"/>
<rect x="274.49" y="152.85" width="9.83" height="8.30" fill="#fc6a32"/>
<rect x="283.32" y="152.85" width="9.83" height="8.30" fill="#fc602f"/>
<rect x="292.16" y="152.85" width="9.83" height="8.30" fill="#fc5b2e"/>
<rect x="300.99" y="152.85" width="9.83" height="8.30" fill="#fc5b2e"/>
<rect x="309.82" y="152.85" width="9.83" height="8.30" fill="#fd8d3c"/>
<rect x="318.66" y="152.85" width="9.83" height="8.30" fill="#fd8d3c"/>
<rect x="327.49" y="152.85" width="9.83" height="8.30" fill="#fffac0"/>
<rect x="336.33" y="152.85" width="9.83" height="8.30" fill="#fffcc5"/>
<rect x="345.16" y="152.85" width="9.83" height="8.30" fill="#fff8bc"/>
<rect x="354.00" y="152.85" width="9.83" height="8.30" fill="#fff8bc"/>
<rect x="362.83" y="152.85" width="9.83" height="8.30" fill="#fff8bc"/>
<rect x="371.67" y="152.85" width="8.83" height="8.30" fill="#fff7b7"/>
<rect x="97.80" y="160.15" width="9.83" height="8.30" fill="#ffffcb"/>
<rect x="106.63" y="160.15" width="9.83" height="8.30" fill="#ffffcb"/>
<rect x="115.47" y="160.15" width="9.83" height="8.30" fill="#ffffcb"/>
<rect x="124.30" y="160.15" width="9.83" height="8.30" fill="#ffffcb"/>
<rect x="133.14" y="160.15" width="9.83" height="8.30" fill="#ffffcb"/>
<rect x="141.97" y="160.15" width="9.83" height="8.30" fill="#ffffcb"/>
<rect x="150.81" y="160.15" width="9.83" height="8.30" fill="#ffffcb"/>
<rect x="159.64" y="160.15" width="9.83" height="8.30" fill="#ffffcb"/>
<rect x="168.47" y="160.15" width="9.83" height="8.30" fill="#fffec9"/>
<rect x="177.31" y="160.15" width="9.83" height="8.30" fill="#fffec9"/>
<rect x="186.14" y="160.15" width="9.83" height="8.30" fill="#fffec9"/>
<rect x="194.98" y="160.15" width="9.83" height="8.30" fill="#fffec9"/>
<rect x="203.81" y="160.15" width="9.83" height="8.30" fill="#cc0a22"/>
<rect x="212.65" y="160.15" width="9.83" height="8.30" fill="#b80026"/>
<rect x="221.48" y="160.15" width="9.83" height="8.30" fill="#a70026"/>
<rect x="230.32" y="160.15" width="9.83" height="8.30" fill="#800026"/>
<rect x="239.15" y="160.15" width="9.83" height="8.30" fill="#fea546"/>
<rect x="247.98" y="160.15" width="9.83" height="8.30" fill="#fc4e2a"/>
<rect x="256.82" y="160.15" width="9.83" height="8.30" fill="#b60026"/>
<rect x="265.65" y="160.15" width="9.83" height="8.30" fill="#b60026"/>
<rect x="274.49" y="160.15" width="9.83" height="8.30" fill="#bb0026"/>
<rect x="283.32" y="160.15" width="9.83" height="8.30" fill="#d7121f"/>
<rect x="292.16" y="160.15" width="9.83" height="8.30" fill="#d7121f"/>
<rect x="300.99" y="160.15" width="9.83" height="8.30" fill="#d7121f"/>
<rect x="309.82" y="160.15" width="9.83" height="8.30" fill="#fff5b4"/>
<rect x="318.66" y="160.15" width="9.83" height="8.30" fill="#fff5b4"/>
<rect x="327.49" y="160.15" width="9.83" height="8.30" fill="#fedf83"/>
<rect x="336.33" y="160.15" width="9.83" height="8.30" fill="#fede80"/>
<rect x="345.16" y="160.15" width="9.83" height="8.30" fill="#fffac0"/>
<rect x="354.00" y="160.15" width="9.83" height="8.30" fill="#fffac0"/>
<rect x="362.83" y="160.15" width="9.83" height="8.30" fill="#fffac0"/>
<rect x="371.67" y="160.15" width="8.83" height="8.30" fill="#fffac0"/>
<rect x="97.80" y="167.45" width="9.83" height="8.30" fill="#ffffcb"/>
<rect x="106.63" y="167.45" width="9.83" height="8.30" fill="#ffffcb"/>
<rect x="115.47" y="167.45" width="9.83" height="8.30" fill="#ffffcb"/>
<rect x="124.30" y="167.45" width="9.83" height="8.30" fill="#ffffcb"/>
<rect x="133.14" y="167.45" width="9.83" height="8.30" fill="#ffffcb"/>
<rect x="141.97" y="167.45" width="9.83" height="8.30" fill="#ffffcb"/>
<rect x="150.81" y="167.45" width="9.83" height="8.30" fill="#ffffcb"/>
<rect x="159.64" y="167.45" width="9.83" height="8.30" fill="#ffffcb"/>
<rect x="168.47" y="167.45" width="9.83" height="8.30" fill="#fffec9"/>
<rect x="177.31" y="167.45" width="9.83" height="8.30" fill="#fffec9"/>
<rect x="186.14" y="167.45" width="9.83" height="8.30" fill="#fffec9"/>
<rect x="194.98" y="167.45" width="9.83" height="8.30" fill="#fffec9"/>
<rect x="203.81" y="167.45" width="9.83" height="8.30" fill="#d10e21"/>
<rect x="212.65" y="167.45" width="9.83" height="8.30" fill="#bb0026"/>
<rect x="221.48" y="167.45" width="9.83" height="8.30" fill="#800026"/>
<rect x="230.32" y="167.45" width="9.83" height="8.30" fill="#a70026"/>
<rect x="239.15" y="167.45" width="9.83" height="8.30" fill="#fea546"/>
<rect x="247.98" y="167.45" width="9.83" height="8.30" fill="#fc4e2a"/>
<rect x="256.82" y="167.45" width="9.83" height="8.30" fill="#c20325"/>
<rect x="265.65" y="167.45" width="9.83" height="8.30" fill="#c20325"/>
<rect x="274.49" y="167.45" width="9.83" height="8.30" fill="#c60624"/>
<rect x="283.32" y="167.45" width="9.83" height="8.30" fill="#d7121f"/>
<rect x="292.16" y="167.45" width="9.83" height="8.30" fill="#d7121f"/>
<rect x="300.99" y="167.45" width="9.83" height="8.30" fill="#d7121f"/>
<rect x="309.82" y="167.45" width="9.83" height="8.30" fill="#fff5b4"/>
<rect x="318.66" y="167.45" width="9.83" height="8.30" fill="#fff4b1"/>
<rect x="327.49" y="167.45" width="9.83" height="8.30" fill="#fedf83"/>
<rect x="336.33" y="167.45" width="9.83" height="8.30" fill="#fedf83"/>
<rect x="345.16" y="167.45" width="9.83" height="8.30" fill="#fffac0"/>
<rect x="354.00" y="167.45" width="9.83" height="8.30" fill="#fffac0"/>
<rect x="362.83" y="167.45" width="9.83" height="8.30" fill="#fffac0"/>
<rect x="371.67" y="167.45" width="8.83" height="8.30" fill="#fffac0"/>
<rect x="97.80" y="174.74" width="9.83" height="8.30" fill="#ffffcb"/>
<rect x="106.63" y="174.74" width="9.83" height="8.30" fill="#ffffcb"/>
<rect x="115.47" y="174.74" width="9.83" height="8.30" fill="#ffffcb"/>
<rect x="124.30" y="174.74" width="9.83" height="8.30" fill="#ffffcb"/>
<rect x="133.14" y="174.74" width="9.83" height="8.30" fill="#ffffcb"/>
<rect x="141.97" y="174.74" width="9.83" height="8.30" fill="#ffffcb"/>
<rect x="150.81" y="174.74" width="9.83" height="8.30" fill="#ffffcb"/>
<rect x="159.64" y="174.74" width="9.83" height="8.30" fill="#ffffcb"/>
<rect x="168.47" y="174.74" width="9.83" height="8.30" fill="#fffec9"/>
<rect x="177.31" y="174.74" width="9.83" height="8.30" fill="#fffec9"/>
<rect x="186.14" y="174.74" width="9.83" height="8.30" fill="#fffec9"/>
<rect x="194.98" y="174.74" width="9.83" height="8.30" fill="#fffec9"/>
<rect x="203.81" y="174.74" width="9.83" height="8.30" fill="#d41020"/>
<rect x="212.65" y="174.74" width="9.83" height="8.30" fill="#800026"/>
<rect x="221.48" y="174.74" width="9.83" height="8.30" fill="#bb0026"/>
<rect x="230.32" y="174.74" width="9.83" height="8.30" fill="#b80026"/>
<rect x="239.15" y="174.74" width="9.83" height="8.30" fill="#feab49"/>
<rect x="247.98" y="174.74" width="9.83" height="8.30" fill="#fa4a29"/>
<rect x="256.82" y="174.74" width="9.83" height="8.30" fill="#c90823"/>
<rect x="265.65" y="174.74" width="9.83" height="8.30" fill="#c90823"/>
<rect x="274.49" y="174.74" width="9.83" height="8.30" fill="#c90823"/>
<rect x="283.32" y="174.74" width="9.83" height="8.30" fill="#dd161e"/>
<rect x="292.16" y="174.74" width="9.83" height="8.30" fill="#da141e"/>
<rect x="300.99" y="174.74" width="9.83" height="8.30" fill="#da141e"/>
<rect x="309.82" y="174.74" width="9.83" height="8.30" fill="#fff4b1"/>
<rect x="318.66" y="174.74" width="9.83" height="8.30" fill="#fff4b1"/>
<rect x="327.49" y="174.74" width="9.83" height="8.30" fill="#fedb7b"/>
<rect x="336.33" y="174.74" width="9.83" height="8.30" fill="#fedb7b"/>
<rect x="345.16" y="174.74" width="9.83" height="8.30" fill="#fffac0"/>
<rect x="354.00" y="174.74" width="9.83" height="8.30" fill="#fffac0"/>
<rect x="362.83" y="174.74" width="9.83" height="8.30" fill="#fffac0"/>
<rect x="371.67" y="174.74" width="8.83" height="8.30" fill="#fffac0"/>
<rect x="97.80" y="182.04" width="9.83" height="8.30" fill="#ffffcb"/>
<rect x="106.63" y="182.04" width="9.83" height="8.30" fill="#ffffcb"/>
<rect x="115.47" y="182.04" width="9.83" height="8.30" fill="#ffffcb"/>
<rect x="124.30" y="182.04" width="9.83" height="8.30" fill="#ffffcb"/>
<rect x="133.14" y="182.04" width="9.83" height="8.30" fill="#ffffcb"/>
<rect x="141.97" y="182.04" width="9.83" height="8.30" fill="#ffffcb"/>
<rect x="150.81" y="182.04" width="9.83" height="8.30" fill="#ffffcb"/>
<rect x="159.64" y="182.04" width="9.83" height="8.30" fill="#ffffcb"/>
<rect x="168.47" y="182.04" width="9.83" height="8.30" fill="#fffec9"/>
<rect x="177.31" y="182.04" width="9.83" height="8.30" fill="#fffec9"/>
<rect x="186.14" y="182.04" width="9.83" height="8.30" fill="#fffec9"/>
<rect x="194.98" y="182.04" width="9.83" height="8.30" fill="#fffec9"/>
<rect x="203.81" y="182.04" width="9.83" height="8.30" fill="#800026"/>
<rect x="212.65" y="182.04" width="9.83" height="8.30" fill="#d41020"/>
<rect x="221.48" y="182.04" width="9.83" height="8.30" fill="#d10e21"/>
<rect x="230.32" y="182.04" width="9.83" height="8.30" fill="#cc0a22"/>
<rect x="239.15" y="182.04" width="9.83" height="8.30" fill="#feab49"/>
<rect x="247.98" y="182.04" width="9.83" height="8.30" fill="#fc6c33"/>
<rect x="256.82" y="182.04" width="9.83" height="8.30" fill="#d7121f"/>
<rect x="265.65" y="182.04" width="9.83" height="8.30" fill="#d7121f"/>
<rect x="274.49" y="182.04" width="9.83" height="8.30" fill="#da141e"/>
<rect x="283.32" y="182.04" width="9.83" height="8.30" fill="#e9261f"/>
<rect x="292.16" y="182.04" width="9.83" height="8.30" fill="#e9261f"/>
<rect x="300.99" y="182.04" width="9.83" height="8.30" fill="#e9261f"/>
<rect x="309.82" y="182.04" width="9.83" height="8.30" fill="#fff7b9"/>
<rect x="318.66" y="182.04" width="9.83" height="8.30" fill="#fff8bc"/>
<rect x="327.49" y="182.04" width="9.83" height="8.30" fill="#fede80"/>
<rect x="336.33" y="182.04" width="9.83" height="8.30" fill="#fede80"/>
<rect x="345.16" y="182.04" width="9.83" height="8.30" fill="#fffac0"/>
<rect x="354.00" y="182.04" width="9.83" height="8.30" fill="#fffac0"/>
<rect x="362.83" y="182.04" width="9.83" height="8.30" fill="#fffac0"/>
<rect x="371.67" y="182.04" width="8.83" height="8.30" fill="#fffac0"/>
<rect x="97.80" y="189.34" width="9.83" height="8.30" fill="#fecd69"/>
<rect x="106.63" y="189.34" width="9.83" height="8.30" fill="#fec965"/>
<rect x="115.47" y="189.34" width="9.83" height="8.30" fill="#fc5b2e"/>
<rect x="124.30" y="189.34" width="9.83" height="8.30" fill="#fea546"/>
<rect x="133.14" y="189.34" width="9.83" height="8.30" fill="#feb54f"/>
<rect x="141.97" y="189.34" width="9.83" height="8.30" fill="#feb14b"/>
<rect x="150.81" y="189.34" width="9.83" height="8.30" fill="#feb14b"/>
<rect x="159.64" y="189.34" width="9.83" height="8.30" fill="#feb14b"/>
<rect x="168.47" y="189.34" width="9.83" height="8.30" fill="#feb24c"/>
<rect x="177.31" y="189.34" width="9.83" height="8.30" fill="#fea346"/>
<rect x="186.14" y="189.34" width="9.83" height="8.30" fill="#f13724"/>
<rect x="194.98" y="189.34" width="9.83" height="8.30" fill="#800026"/>
<rect x="203.81" y="189.34" width="9.83" height="8.30" fill="#fffec9"/>
<rect x="212.65" y="189.34" width="9.83" height="8.30" fill="#fffec9"/>
<rect x="221.48" y="189.34" width="9.83" height="8.30" fill="#fffec9"/>
<rect x="230.32" y="189.34" width="9.83" height="8.30" fill="#fffec9"/>
<rect x="239.15" y="189.34" width="9.83" height="8.30" fill="#fffac0"/>
<rect x="247.98" y="189.34" width="9.83" height="8.30" fill="#fffec9"/>
<rect x="256.82" y="189.34" width="9.83" height="8.30" fill="#fffec9"/>
<rect x="265.65" y="189.34" width="9.83" height="8.30" fill="#fffec9"/>
<rect x="274.49" y="189.34" width="9.83" height="8.30" fill="#fffec9"/>
<rect x="283.32" y="189.34" width="9.83" height="8.30" fill="#fffec9"/>
<rect x="292.16" y="189.34" width="9.83" height="8.30" fill="#fffec9"/>
<rect x="300.99" y="189.34" width="9.83" height="8.30" fill="#fffec9"/>
<rect x="309.82" y="189.34" width="9.83" height="8.30" fill="#fff8bc"/>
<rect x="318.66" y="189.34" width="9.83" height="8.30" fill="#fffac0"/>
<rect x="327.49" y="189.34" width="9.83" height="8.30" fill="#fff7b7"/>
<rect x="336.33" y="189.34" width="9.83" height="8.30" fill="#fffdc8"/>
<rect x="345.16" y="189.34" width="9.83" height="8.30" fill="#ffec9d"/>
<rect x="354.00" y="189.34" width="9.83" height="8.30" fill="#ffec9d"/>
<rect x="362.83" y="189.34" width="9.83" height="8.30" fill="#fff5b4"/>
<rect x="371.67" y="189.34" width="8.83" height="8.30" fill="#fffac0"/>
<rect x="97.80" y="196.63" width="9.83" height="8.30" fill="#fed06c"/>
<rect x="106.63" y="196.63" width="9.83" height="8.30" fill="#fec965"/>
<rect x="115.47" y="196.63" width="9.83" height="8.30" fill="#fd9c42"/>
<rect x="124.30" y="196.63" width="9.83" height="8.30" fill="#fed976"/>
<rect x="133.14" y="196.63" width="9.83" height="8.30" fill="#fede80"/>
<rect x="141.97" y="196.63" width="9.83" height="8.30" fill="#fede80"/>
<rect x="150.81" y="196.63" width="9.83" height="8.30" fill="#fede80"/>
<rect x="159.64" y="196.63" width="9.83" height="8.30" fill="#fede80"/>
<rect x="168.47" y="196.63" width="9.83" height="8.30" fill="#fedb7b"/>
<rect x="177.31" y="196.63" width="9.83" height="8.30" fill="#fd7435"/>
<rect x="186.14" y="196.63" width="9.83" height="8.30" fill="#800026"/>
<rect x="194.98" y="196.63" width="9.83" height="8.30" fill="#f13724"/>
<rect x="203.81" y="196.63" width="9.83" height="8.30" fill="#fffec9"/>
<rect x="212.65" y="196.63" width="9.83" height="8.30" fill="#fffec9"/>
<rect x="221.48" y="196.63" width="9.83" height="8.30" fill="#fffec9"/>
<rect x="230.32" y="196.63" width="9.83" height="8.30" fill="#fffec9"/>
<rect x="239.15" y="196.63" width="9.83" height="8.30" fill="#fff4b1"/>
<rect x="247.98" y="196.63" width="9.83" height="8.30" fill="#fffcc4"/>
<rect x="256.82" y="196.63" width="9.83" height="8.30" fill="#fffec9"/>
<rect x="265.65" y="196.63" width="9.83" height="8.30" fill="#fffec9"/>
<rect x="274.49" y="196.63" width="9.83" height="8.30" fill="#fffec9"/>
<rect x="283.32" y="196.63" width="9.83" height="8.30" fill="#fffec9"/>
<rect x="292.16" y="196.63" width="9.83" height="8.30" fill="#fffec9"/>
<rect x="300.99" y="196.63" width="9.83" height="8.30" fill="#fffec9"/>
<rect x="309.82" y="196.63" width="9.83" height="8.30" fill="#fff7b7"/>
<rect x="318.66" y="196.63" width="9.83" height="8.30" fill="#fffac0"/>
<rect x="327.49" y="196.63" width="9.83" height="8.30" fill="#fff4b1"/>
<rect x="336.33" y="196.63" width="9.83" height="8.30" fill="#ffeea3"/>
<rect x="345.16" y="196.63" width="9.83" height="8.30" fill="#fed976"/>
<rect x="354.00" y="196.63" width="9.83" height="8.30" fill="#fed976"/>
<rect x="362.83" y="196.63" width="9.83" height="8.30" fill="#fee187"/>
<rect x="371.67" y="196.63" width="8.83" height="8.30" fill="#ffe997"/>
<rect x="97.80" y="203.93" width="9.83" height="8.30" fill="#ffeea3"/>
<rect x="106.63" y="203.93" width="9.83" height="8.30" fill="#ffec9d"/>
<rect x="115.47" y="203.93" width="9.83" height="8.30" fill="#ffe997"/>
<rect x="124.30" y="203.93" width="9.83" height="8.30" fill="#fff1a9"/>
<rect x="133.14" y="203.93" width="9.83" height="8.30" fill="#fff7b7"/>
<rect x="141.97" y="203.93" width="9.83" height="8.30" fill="#fff5b4"/>
<rect x="150.81" y="203.93" width="9.83" height="8.30" fill="#fff5b4"/>
<rect x="159.64" y="203.93" width="9.83" height="8.30" fill="#fff5b4"/>
<rect x="168.47" y="203.93" width="9.83" height="8.30" fill="#fff4b1"/>
<rect x="177.31" y="203.93" width="9.83" height="8.30" fill="#800026"/>
<rect x="186.14" y="203.93" width="9.83" height="8.30" fill="#fd7435"/>
<rect x="194.98" y="203.93" width="9.83" height="8.30" fill="#fea346"/>
<rect x="203.81" y="203.93" width="9.83" height="8.30" fill="#fffec9"/>
<rect x="212.65" y="203.93" width="9.83" height="8.30" fill="#fffec9"/>
<rect x="221.48" y="203.93" width="9.83" height="8.30" fill="#fffec9"/>
<rect x="230.32" y="203.93" width="9.83" height="8.30" fill="#fffec9"/>
<rect x="239.15" y="203.93" width="9.83" height="8.30" fill="#fffac0"/>
<rect x="247.98" y="203.93" width="9.83" height="8.30" fill="#fffec9"/>
<rect x="256.82" y="203.93" width="9.83" height="8.30" fill="#fffec9"/>
<rect x="265.65" y="203.93" width="9.83" height="8.30" fill="#fffec9"/>
<rect x="274.49" y="203.93" width="9.83" height="8.30" fill="#fffec9"/>
<rect x="283.32" y="203.93" width="9.83" height="8.30" fill="#fffec9"/>
<rect x="292.16" y="203.93" width="9.83" height="8.30" fill="#fffec9"/>
<rect x="300.99" y="203.93" width="9.83" height="8.30" fill="#fffec9"/>
<rect x="309.82" y="203.93" width="9.83" height="8.30" fill="#fffdc7"/>
<rect x="318.66" y="203.93" width="9.83" height="8.30" fill="#fffac0"/>
<rect x="327.49" y="203.93" width="9.83" height="8.30" fill="#ffec9d"/>
<rect x="336.33" y="203.93" width="9.83" height="8.30" fill="#fecd69"/>
<rect x="345.16" y="203.93" width="9.83" height="8.30" fill="#fc5b2e"/>
<rect x="354.00" y="203.93" width="9.83" height="8.30" fill="#fd7435"/>
<rect x="362.83" y="203.93" width="9.83" height="8.30" fill="#fd933f"/>
<rect x="371.67" y="203.93" width="8.83" height="8.30" fill="#fd9c42"/>
<rect x="97.80" y="211.23" width="9.83" height="8.30" fill="#e51e1d"/>
<rect x="106.63" y="211.23" width="9.83" height="8.30" fill="#f94828"/>
<rect x="115.47" y="211.23" width="9.83" height="8.30" fill="#ed2f22"/>
<rect x="124.30" y="211.23" width="9.83" height="8.30" fill="#c00225"/>
<rect x="133.14" y="211.23" width="9.83" height="8.30" fill="#980026"/>
<rect x="141.97" y="211.23" width="9.83" height="8.30" fill="#850026"/>
<rect x="150.81" y="211.23" width="9.83" height="8.30" fill="#850026"/>
<rect x="159.64" y="211.23" width="9.83" height="8.30" fill="#850026"/>
<rect x="168.47" y="211.23" width="9.83" height="8.30" fill="#800026"/>
<rect x="177.31" y="211.23" width="9.83" height="8.30" fill="#fff4b1"/>
<rect x="186.14" y="211.23" width="9.83" height="8.30" fill="#fedb7b"/>
<rect x="194.98" y="211.23" width="9.83" height="8.30" fill="#feb24c"/>
<rect x="203.81" y="211.23" width="9.83" height="8.30" fill="#fffec9"/>
<rect x="212.65" y="211.23" width="9.83" height="8.30" fill="#fffec9"/>
<rect x="221.48" y="211.23" width="9.83" height="8.30" fill="#fffec9"/>
<rect x="230.32" y="211.23" width="9.83" height="8.30" fill="#fffec9"/>
<rect x="239.15" y="211.23" width="9.83" height="8.30" fill="#fffcc5"/>
<rect x="247.98" y="211.23" width="9.83" height="8.30" fill="#fffec9"/>
<rect x="256.82" y="211.23" width="9.83" height="8.30" fill="#fffec9"/>
<rect x="265.65" y="211.23" width="9.83" height="8.30" fill="#fffec9"/>
<rect x="274.49" y="211.23" width="9.83" height="8.30" fill="#fffec9"/>
<rect x="283.32" y="211.23" width="9.83" height="8.30" fill="#fffec9"/>
<rect x="292.16" y="211.23" width="9.83" height="8.30" fill="#fffec9"/>
<rect x="300.99" y="211.23" width="9.83" height="8.30" fill="#fffec9"/>
<rect x="309.82" y="211.23" width="9.83" height="8.30" fill="#fffec9"/>
<rect x="318.66" y="211.23" width="9.83" height="8.30" fill="#fffec9"/>
<rect x="327.49" y="211.23" width="9.83" height="8.30" fill="#fffec9"/>
<rect x="336.33" y="211.23" width="9.83" height="8.30" fill="#fffec9"/>
<rect x="345.16" y="211.23" width="9.83" height="8.30" fill="#fffec9"/>
<rect x="354.00" y="211.23" width="9.83" height="8.30" fill="#fffec9"/>
<rect x="362.83" y="211.23" width="9.83" height="8.30" fill="#fffec9"/>
<rect x="371.67" y="211.23" width="8.83" height="8.30" fill="#fffec9"/>
<rect x="97.80" y="218.52" width="9.83" height="8.30" fill="#e9261f"/>
<rect x="106.63" y="218.52" width="9.83" height="8.30" fill="#fc5b2e"/>
<rect x="115.47" y="218.52" width="9.83" height="8.30" fill="#ef3323"/>
<rect x="124.30" y="218.52" width="9.83" height="8.30" fill="#bf0126"/>
<rect x="133.14" y="218.52" width="9.83" height="8.30" fill="#900026"/>
<rect x="141.97" y="218.52" width="9.83" height="8.30" fill="#820026"/>
<rect x="150.81" y="218.52" width="9.83" height="8.30" fill="#820026"/>
<rect x="159.64" y="218.52" width="9.83" height="8.30" fill="#800026"/>
<rect x="168.47" y="218.52" width="9.83" height="8.30" fill="#850026"/>
<rect x="177.31" y="218.52" width="9.83" height="8.30" fill="#fff5b4"/>
<rect x="186.14" y="218.52" width="9.83" height="8.30" fill="#fede80"/>
<rect x="194.98" y="218.52" width="9.83" height="8.30" fill="#feb14b"/>
<rect x="203.81" y="218.52" width="9.83" height="8.30" fill="#ffffcb"/>
<rect x="212.65" y="218.52" width="9.83" height="8.30" fill="#ffffcb"/>
<rect x="221.48" y="218.52" width="9.83" height="8.30" fill="#ffffcb"/>
<rect x="230.32" y="218.52" width="9.83" height="8.30" fill="#ffffcb"/>
<rect x="239.15" y="218.52" width="9.83" height="8.30" fill="#ffffcb"/>
<rect x="247.98" y="218.52" width="9.83" height="8.30" fill="#ffffcb"/>
<rect x="256.82" y="218.52" width="9.83" height="8.30" fill="#ffffcb"/>
<rect x="265.65" y="218.52" width="9.83" height="8.30" fill="#ffffcb"/>
<rect x="274.49" y="218.52" width="9.83" height="8.30" fill="#ffffcb"/>
<rect x="283.32" y="218.52" width="9.83" height="8.30" fill="#ffffcb"/>
<rect x="292.16" y="218.52" width="9.83" height="8.30" fill="#ffffcb"/>
<rect x="300.99" y="218.52" width="9.83" height="8.30" fill="#ffffcb"/>
<rect x="309.82" y="218.52" width="9.83" height="8.30" fill="#ffffcb"/>
<rect x="318.66" y="218.52" width="9.83" height="8.30" fill="#ffffcb"/>
<rect x="327.49" y="218.52" width="9.83" height="8.30" fill="#ffffcb"/>
<rect x="336.33" y="218.52" width="9.83" height="8.30" fill="#ffffcb"/>
<rect x="345.16" y="218.52" width="9.83" height="8.30" fill="#ffffcb"/>
<rect x="354.00" y="218.52" width="9.83" height="8.30" fill="#ffffcb"/>
<rect x="362.83" y="218.52" width="9.83" height="8.30" fill="#ffffcb"/>
<rect x="371.67" y="218.52" width="8.83" height="8.30" fill="#ffffcb"/>
<rect x="97.80" y="225.82" width="9.83" height="8.30" fill="#e9261f"/>
<rect x="106.63" y="225.82" width="9.83" height="8.30" fill="#fc5b2e"/>
<rect x="115.47" y="225.82" width="9.83" height="8.30" fill="#ef3323"/>
<rect x="124.30" y="225.82" width="9.83" height="8.30" fill="#bf0126"/>
<rect x="133.14" y="225.82" width="9.83" height="8.30" fill="#900026"/>
<rect x="141.97" y="225.82" width="9.83" height="8.30" fill="#820026"/>
<rect x="150.81" y="225.82" width="9.83" height="8.30" fill="#800026"/>
<rect x="159.64" y="225.82" width="9.83" height="8.30" fill="#820026"/>
<rect x="168.47" y="225.82" width="9.83" height="8.30" fill="#850026"/>
<rect x="177.31" y="225.82" width="9.83" height="8.30" fill="#fff5b4"/>
<rect x="186.14" y="225.82" width="9.83" height="8.30" fill="#fede80"/>
<rect x="194.98" y="225.82" width="9.83" height="8.30" fill="#feb14b"/>
<rect x="203.81" y="225.82" width="9.83" height="8.30" fill="#ffffcb"/>
<rect x="212.65" y="225.82" width="9.83" height="8.30" fill="#ffffcb"/>
<rect x="221.48" y="225.82" width="9.83" height="8.30" fill="#ffffcb"/>
<rect x="230.32" y="225.82" width="9.83" height="8.30" fill="#ffffcb"/>
<rect x="239.15" y="225.82" width="9.83" height="8.30" fill="#ffffcb"/>
<rect x="247.98" y="225.82" width="9.83" height="8.30" fill="#ffffcb"/>
<rect x="256.82" y="225.82" width="9.83" height="8.30" fill="#ffffcb"/>
<rect x="265.65" y="225.82" width="9.83" height="8.30" fill="#ffffcb"/>
<rect x="274.49" y="225.82" width="9.83" height="8.30" fill="#ffffcb"/>
<rect x="283.32" y="225.82" width="9.83" height="8.30" fill="#ffffcb"/>
<rect x="292.16" y="225.82" width="9.83" height="8.30" fill="#ffffcb"/>
<rect x="300.99" y="225.82" width="9.83" height="8.30" fill="#ffffcb"/>
<rect x="309.82" y="225.82" width="9.83" height="8.30" fill="#ffffcb"/>
<rect x="318.66" y="225.82" width="9.83" height="8.30" fill="#ffffcb"/>
<rect x="327.49" y="225.82" width="9.83" height="8.30" fill="#ffffcb"/>
<rect x="336.33" y="225.82" width="9.83" height="8.30" fill="#ffffcb"/>
<rect x="345.16" y="225.82" width="9.83" height="8.30" fill="#ffffcb"/>
<rect x="354.00" y="225.82" width="9.83" height="8.30" fill="#ffffcb"/>
<rect x="362.83" y="225.82" width="9.83" height="8.30" fill="#ffffcb"/>
<rect x="371.67" y="225.82" width="8.83" height="8.30" fill="#ffffcb"/>
<rect x="97.80" y="233.12" width="9.83" height="8.30" fill="#e9261f"/>
<rect x="106.63" y="233.12" width="9.83" height="8.30" fill="#fc5b2e"/>
<rect x="115.47" y="233.12" width="9.83" height="8.30" fill="#ef3323"/>
<rect x="124.30" y="233.12" width="9.83" height="8.30" fill="#bf0126"/>
<rect x="133.14" y="233.12" width="9.83" height="8.30" fill="#900026"/>
<rect x="141.97" y="233.12" width="9.83" height="8.30" fill="#800026"/>
<rect x="150.81" y="233.12" width="9.83" height="8.30" fill="#820026"/>
<rect x="159.64" y="233.12" width="9.83" height="8.30" fill="#820026"/>
<rect x="168.47" y="233.12" width="9.83" height="8.30" fill="#850026"/>
<rect x="177.31" y="233.12" width="9.83" height="8.30" fill="#fff5b4"/>
<rect x="186.14" y="233.12" width="9.83" height="8.30" fill="#fede80"/>
<rect x="194.98" y="233.12" width="9.83" height="8.30" fill="#feb14b"/>
<rect x="203.81" y="233.12" width="9.83" height="8.30" fill="#ffffcb"/>
<rect x="212.65" y="233.12" width="9.83" height="8.30" fill="#ffffcb"/>
<rect x="221.48" y="233.12" width="9.83" height="8.30" fill="#ffffcb"/>
<rect x="230.32" y="233.12" width="9.83" height="8.30" fill="#ffffcb"/>
<rect x="239.15" y="233.12" width="9.83" height="8.30" fill="#ffffcb"/>
<rect x="247.98" y="233.12" width="9.83" height="8.30" fill="#ffffcb"/>
<rect x="256.82" y="233.12" width="9.83" height="8.30" fill="#ffffcb"/>
<rect x="265.65" y="233.12" width="9.83" height="8.30" fill="#ffffcb"/>
<rect x="274.49" y="233.12" width="9.83" height="8.30" fill="#ffffcb"/>
<rect x="283.32" y="233.12" width="9.83" height="8.30" fill="#ffffcb"/>
<rect x="292.16" y="233.12" width="9.83" height="8.30" fill="#ffffcb"/>
<rect x="300.99" y="233.12" width="9.83" height="8.30" fill="#ffffcb"/>
<rect x="309.82" y="233.12" width="9.83" height="8.30" fill="#ffffcb"/>
<rect x="318.66" y="233.12" width="9.83" height="8.30" fill="#ffffcb"/>
<rect x="327.49" y="233.12" width="9.83" height="8.30" fill="#ffffcb"/>
<rect x="336.33" y="233.12" width="9.83" height="8.30" fill="#ffffcb"/>
<rect x="345.16" y="233.12" width="9.83" height="8.30" fill="#ffffcb"/>
<rect x="354.00" y="233.12" width="9.83" height="8.30" fill="#ffffcb"/>
<rect x="362.83" y="233.12" width="9.83" height="8.30" fill="#ffffcb"/>
<rect x="371.67" y="233.12" width="8.83" height="8.30" fill="#ffffcb"/>
<rect x="97.80" y="240.42" width="9.83" height="8.30" fill="#e9261f"/>
<rect x="106.63" y="240.42" width="9.83" height="8.30" fill="#fc5b2e"/>
<rect x="115.47" y="240.42" width="9.83" height="8.30" fill="#ef3323"/>
<rect x="124.30" y="240.42" width="9.83" height="8.30" fill="#bb0026"/>
<rect x="133.14" y="240.42" width="9.83" height="8.30" fill="#800026"/>
<rect x="141.97" y="240.42" width="9.83" height="8.30" fill="#900026"/>
<rect x="150.81" y="240.42" width="9.83" height="8.30" fill="#900026"/>
<rect x="159.64" y="240.42" width="9.83" height="8.30" fill="#900026"/>
<rect x="168.47" y="240.42" width="9.83" height="8.30" fill="#980026"/>
<rect x="177.31" y="240.42" width="9.83" height="8.30" fill="#fff7b7"/>
<rect x="186.14" y="240.42" width="9.83" height="8.30" fill="#fede80"/>
<rect x="194.98" y="240.42" width="9.83" height="8.30" fill="#feb54f"/>
<rect x="203.81" y="240.42" width="9.83" height="8.30" fill="#ffffcb"/>
<rect x="212.65" y="240.42" width="9.83" height="8.30" fill="#ffffcb"/>
<rect x="221.48" y="240.42" width="9.83" height="8.30" fill="#ffffcb"/>
<rect x="230.32" y="240.42" width="9.83" height="8.30" fill="#ffffcb"/>
<rect x="239.15" y="240.42" width="9.83" height="8.30" fill="#ffffcb"/>
<rect x="247.98" y="240.42" width="9.83" height="8.30" fill="#ffffcb"/>
<rect x="256.82" y="240.42" width="9.83" height="8.30" fill="#ffffcb"/>
<rect x="265.65" y="240.42" width="9.83" height="8.30" fill="#ffffcb"/>
<rect x="274.49" y="240.42" width="9.83" height="8.30" fill="#ffffcb"/>
<rect x="283.32" y="240.42" width="9.83" height="8.30" fill="#ffffcb"/>
<rect x="292.16" y="240.42" width="9.83" height="8.30" fill="#ffffcb"/>
<rect x="300.99" y="240.42" width="9.83" height="8.30" fill="#ffffcb"/>
<rect x="309.82" y="240.42" width="9.83" height="8.30" fill="#ffffcb"/>
<rect x="318.66" y="240.42" width="9.83" height="8.30" fill="#ffffcb"/>
<rect x="327.49" y="240.42" width="9.83" height="8.30" fill="#fffec8"/>
<rect x="336.33" y="240.42" width="9.83" height="8.30" fill="#ffffcb"/>
<rect x="345.16" y="240.42" width="9.83" height="8.30" fill="#ffffcb"/>
<rect x="354.00" y="240.42" width="9.83" height="8.30" fill="#ffffcb"/>
<rect x="362.83" y="240.42" width="9.83" height="8.30" fill="#ffffcb"/>
<rect x="371.67" y="240.42" width="8.83" height="8.30" fill="#ffffcb"/>
<rect x="97.80" y="247.71" width="9.83" height="8.30" fill="#e9261f"/>
<rect x="106.63" y="247.71" width="9.83" height="8.30" fill="#fc5b2e"/>
<rect x="115.47" y="247.71" width="9.83" height="8.30" fill="#ed2f22"/>
<rect x="124.30" y="247.71" width="9.83" height="8.30" fill="#800026"/>
<rect x="133.14" y="247.71" width="9.83" height="8.30" fill="#bb0026"/>
<rect x="141.97" y="247.71" width="9.83" height="8.30" fill="#bf0126"/>
<rect x="150.81" y="247.71" width="9.83" height="8.30" fill="#bf0126"/>
<rect x="159.64" y="247.71" width="9.83" height="8.30" fill="#bf0126"/>
<rect x="168.47" y="247.71" width="9.83" height="8.30" fill="#c00225"/>
<rect x="177.31" y="247.71" width="9.83" height="8.30" fill="#fff1a9"/>
<rect x="186.14" y="247.71" width="9.83" height="8.30" fill="#fed976"/>
<rect x="194.98" y="247.71" width="9.83" height="8.30" fill="#fea546"/>
<rect x="203.81" y="247.71" width="9.83" height="8.30" fill="#ffffcb"/>
<rect x="212.65" y="247.71" width="9.83" height="8.30" fill="#ffffcb"/>
<rect x="221.48" y="247.71" width="9.83" height="8.30" fill="#ffffcb"/>
<rect x="230.32" y="247.71" width="9.83" height="8.30" fill="#ffffcb"/>
<rect x="239.15" y="247.71" width="9.83" height="8.30" fill="#ffffcb"/>
<rect x="247.98" y="247.71" width="9.83" height="8.30" fill="#ffffcb"/>
<rect x="256.82" y="247.71" width="9.83" height="8.30" fill="#ffffcb"/>
<rect x="265.65" y="247.71" width="9.83" height="8.30" fill="#ffffcb"/>
<rect x="274.49" y="247.71" width="9.83" height="8.30" fill="#ffffcb"/>
<rect x="283.32" y="247.71" width="9.83" height="8.30" fill="#ffffcb"/>
<rect x="292.16" y="247.71" width="9.83" height="8.30" fill="#ffffcb"/>
<rect x="300.99" y="247.71" width="9.83" height="8.30" fill="#ffffcb"/>
<rect x="309.82" y="247.71" width="9.83" height="8.30" fill="#ffffcb"/>
<rect x="318.66" y="247.71" width="9.83" height="8.30" fill="#ffffcb"/>
<rect x="327.49" y="247.71" width="9.83" height="8.30" fill="#fffdc7"/>
<rect x="336.33" y="247.71" width="9.83" height="8.30" fill="#fffec8"/>
<rect x="345.16" y="247.71" width="9.83" height="8.30" fill="#fffec8"/>
<rect x="354.00" y="247.71" width="9.83" height="8.30" fill="#fffec8"/>
<rect x="362.83" y="247.71" width="9.83" height="8.30" fill="#ffffcb"/>
<rect x="371.67" y="247.71" width="8.83" height="8.30" fill="#ffffcb"/>
<rect x="97.80" y="255.01" width="9.83" height="8.30" fill="#fc6731"/>
<rect x="106.63" y="255.01" width="9.83" height="8.30" fill="#fc6731"/>
<rect x="115.47" y="255.01" width="9.83" height="8.30" fill="#800026"/>
<rect x="124.30" y="255.01" width="9.83" height="8.30" fill="#ed2f22"/>
<rect x="133.14" y="255.01" width="9.83" height="8.30" fill="#ef3323"/>
<rect x="141.97" y="255.01" width="9.83" height="8.30" fill="#ef3323"/>
<rect x="150.81" y="255.01" width="9.83" height="8.30" fill="#ef3323"/>
<rect x="159.64" y="255.01" width="9.83" height="8.30" fill="#ef3323"/>
<rect x="168.47" y="255.01" width="9.83" height="8.30" fill="#ed2f22"/>
<rect x="177.31" y="255.01" width="9.83" height="8.30" fill="#ffe997"/>
<rect x="186.14" y="255.01" width="9.83" height="8.30" fill="#fd9c42"/>
<rect x="194.98" y="255.01" width="9.83" height="8.30" fill="#fc5b2e"/>
<rect x="203.81" y="255.01" width="9.83" height="8.30" fill="#ffffcb"/>
<rect x="212.65" y="255.01" width="9.83" height="8.30" fill="#ffffcb"/>
<rect x="221.48" y="255.01" width="9.83" height="8.30" fill="#ffffcb"/>
<rect x="230.32" y="255.01" width="9.83" height="8.30" fill="#ffffcb"/>
<rect x="239.15" y="255.01" width="9.83" height="8.30" fill="#ffffcb"/>
<rect x="247.98" y="255.01" width="9.83" height="8.30" fill="#ffffcb"/>
<rect x="256.82" y="255.01" width="9.83" height="8.30" fill="#ffffcb"/>
<rect x="265.65" y="255.01" width="9.83" height="8.30" fill="#ffffcb"/>
<rect x="274.49" y="255.01" width="9.83" height="8.30" fill="#ffffcb"/>
<rect x="283.32" y="255.01" width="9.83" height="8.30" fill="#ffffcb"/>
<rect x="292.16" y="255.01" width="9.83" height="8.30" fill="#ffffcb"/>
<rect x="300.99" y="255.01" width="9.83" height="8.30" fill="#ffffcb"/>
<rect x="309.82" y="255.01" width="9.83" height="8.30" fill="#fffec8"/>
<rect x="318.66" y="255.01" width="9.83" height="8.30" fill="#fffec8"/>
<rect x="327.49" y="255.01" width="9.83" height="8.30" fill="#fffabf"/>
<rect x="336.33" y="255.01" width="9.83" height="8.30" fill="#fffbc2"/>
<rect x="345.16" y="255.01" width="9.83" height="8.30" fill="#fff8bb"/>
<rect x="354.00" y="255.01" width="9.83" height="8.30" fill="#fff7b7"/>
<rect x="362.83" y="255.01" width="9.83" height="8.30" fill="#fffbc2"/>
<rect x="371.67" y="255.01" width="8.83" height="8.30" fill="#fffcc5"/>
<rect x="97.80" y="262.31" width="9.83" height="8.30" fill="#bf0126"/>
<rect x="106.63" y="262.31" width="9.83" height="8.30" fill="#800026"/>
<rect x="115.47" y="262.31" width="9.83" height="8.30" fill="#fc6731"/>
<rect x="124.30" y="262.31" width="9.83" height="8.30" fill="#fc5b2e"/>
<rect x="133.14" y="262.31" width="9.83" height="8.30" fill="#fc5b2e"/>
<rect x="141.97" y="262.31" width="9.83" height="8.30" fill="#fc5b2e"/>
<rect x="150.81" y="262.31" width="9.83" height="8.30" fill="#fc5b2e"/>
<rect x="159.64" y="262.31" width="9.83" height="8.30" fill="#fc5b2e"/>
<rect x="168.47" y="262.31" width="9.83" height="8.30" fill="#f94828"/>
<rect x="177.31" y="262.31" width="9.83" height="8.30" fill="#ffec9d"/>
<rect x="186.14" y="262.31" width="9.83" height="8.30" fill="#fec965"/>
<rect x="194.98" y="262.31" width="9.83" height="8.30" fill="#fec965"/>
<rect x="203.81" y="262.31" width="9.83" height="8.30" fill="#ffffcb"/>
<rect x="212.65" y="262.31" width="9.83" height="8.30" fill="#ffffcb"/>
<rect x="221.48" y="262.31" width="9.83" height="8.30" fill="#ffffcb"/>
<rect x="230.32" y="262.31" width="9.83" height="8.30" fill="#ffffcb"/>
<rect x="239.15" y="262.31" width="9.83" height="8.30" fill="#ffffcb"/>
<rect x="247.98" y="262.31" width="9.83" height="8.30" fill="#ffffcb"/>
<rect x="256.82" y="262.31" width="9.83" height="8.30" fill="#ffffcb"/>
<rect x="265.65" y="262.31" width="9.83" height="8.30" fill="#ffffcb"/>
<rect x="274.49" y="262.31" width="9.83" height="8.30" fill="#ffffcb"/>
<rect x="283.32" y="262.31" width="9.83" height="8.30" fill="#ffffcb"/>
<rect x="292.16" y="262.31" width="9.83" height="8.30" fill="#ffffcb"/>
<rect x="300.99" y="262.31" width="9.83" height="8.30" fill="#ffffcb"/>
<rect x="309.82" y="262.31" width="9.83" height="8.30" fill="#fffdc7"/>
<rect x="318.66" y="262.31" width="9.83" height="8.30" fill="#fffdc6"/>
<rect x="327.49" y="262.31" width="9.83" height="8.30" fill="#fff7b9"/>
<rect x="336.33" y="262.31" width="9.83" height="8.30" fill="#fff4b1"/>
<rect x="345.16" y="262.31" width="9.83" height="8.30" fill="#ffe997"/>
<rect x="354.00" y="262.31" width="9.83" height="8.30" fill="#ffe997"/>
<rect x="362.83" y="262.31" width="9.83" height="8.30" fill="#fff2ad"/>
<rect x="371.67" y="262.31" width="8.83" height="8.30" fill="#fff7b7"/>
<rect x="97.80" y="269.60" width="9.83" height="7.30" fill="#800026"/>
<rect x="106.63" y="269.60" width="9.83" height="7.30" fill="#bf0126"/>
<rect x="115.47" y="269.60" width="9.83" height="7.30" fill="#fc6731"/>
<rect x="124.30" y="269.60" width="9.83" height="7.30" fill="#e9261f"/>
<rect x="133.14" y="269.60" width="9.83" height="7.30" fill="#e9261f"/>
<rect x="141.97" y="269.60" width="9.83" height="7.30" fill="#e9261f"/>
<rect x="150.81" y="269.60" width="9.83" height="7.30" fill="#e9261f"/>
<rect x="159.64" y="269.60" width="9.83" height="7.30" fill="#e9261f"/>
<rect x="168.47" y="269.60" width="9.83" height="7.30" fill="#e51e1d"/>
<rect x="177.31" y="269.60" width="9.83" height="7.30" fill="#ffeea3"/>
<rect x="186.14" y="269.60" width="9.83" height="7.30" fill="#fed06c"/>
<rect x="194.98" y="269.60" width="9.83" height="7.30" fill="#fecd69"/>
<rect x="203.81" y="269.60" width="9.83" height="7.30" fill="#ffffcb"/>
<rect x="212.65" y="269.60" width="9.83" height="7.30" fill="#ffffcb"/>
<rect x="221.48" y="269.60" width="9.83" height="7.30" fill="#ffffcb"/>
<rect x="230.32" y="269.60" width="9.83" height="7.30" fill="#ffffcb"/>
<rect x="239.15" y="269.60" width="9.83" height="7.30" fill="#ffffcb"/>
<rect x="247.98" y="269.60" width="9.83" height="7.30" fill="#ffffcb"/>
<rect x="256.82" y="269.60" width="9.83" height="7.30" fill="#ffffcb"/>
<rect x="265.65" y="269.60" width="9.83" height="7.30" fill="#ffffcb"/>
<rect x="274.49" y="269.60" width="9.83" height="7.30" fill="#ffffcb"/>
<rect x="283.32" y="269.60" width="9.83" height="7.30" fill="#ffffcb"/>
<rect x="292.16" y="269.60" width="9.83" height="7.30" fill="#ffffcb"/>
<rect x="300.99" y="269.60" width="9.83" height="7.30" fill="#ffffcb"/>
<rect x="309.82" y="269.60" width="9.83" height="7.30" fill="#fffec8"/>
<rect x="318.66" y="269.60" width="9.83" height="7.30" fill="#fffec8"/>
<rect x="327.49" y="269.60" width="9.83" height="7.30" fill="#fffbc2"/>
<rect x="336.33" y="269.60" width="9.83" height="7.30" fill="#fffac0"/>
<rect x="345.16" y="269.60" width="9.83" height="7.30" fill="#fffac0"/>
<rect x="354.00" y="269.60" width="9.83" height="7.30" fill="#fffac0"/>
<rect x="362.83" y="269.60" width="9.83" height="7.30" fill="#fffac0"/>
<rect x="371.67" y="269.60" width="8.83" height="7.30" fill="#fffac0"/>
<rect x="78.1" y="43.40" width="14.7" height="44.08" fill="#80b1d3"/>
<rect x="78.1" y="87.18" width="14.7" height="14.89" fill="#fb8072"/>
<rect x="78.1" y="101.77" width="14.7" height="87.86" fill="#bebada"/>
<rect x="78.1" y="189.34" width="14.7" height="22.19" fill="#ffffb3"/>
<rect x="78.1" y="211.23" width="14.7" height="65.67" fill="#8dd3c7"/>
<text transform="translate(104.42,38.6) rotate(-90)" font-size="6.45" fill="#111" stroke="#111" stroke-width="0.16">Eotaxin</text>
<text transform="translate(113.25,38.6) rotate(-90)" font-size="6.45" fill="#111" stroke="#111" stroke-width="0.16">RANTES</text>
<text transform="translate(122.09,38.6) rotate(-90)" font-size="6.45" fill="#111" stroke="#111" stroke-width="0.16">MIP-2</text>
<text transform="translate(130.92,38.6) rotate(-90)" font-size="6.45" fill="#111" stroke="#111" stroke-width="0.16">MIG</text>
<text transform="translate(139.75,38.6) rotate(-90)" font-size="6.45" fill="#111" stroke="#111" stroke-width="0.16">IL-18</text>
<text transform="translate(148.59,38.6) rotate(-90)" font-size="6.45" fill="#111" stroke="#111" stroke-width="0.16">IL-15</text>
<text transform="translate(157.42,38.6) rotate(-90)" font-size="6.45" fill="#111" stroke="#111" stroke-width="0.16">PDGF-BB</text>
<text transform="translate(166.26,38.6) rotate(-90)" font-size="6.45" fill="#111" stroke="#111" stroke-width="0.16">Basic FGF</text>
<text transform="translate(175.09,38.6) rotate(-90)" font-size="6.45" fill="#111" stroke="#111" stroke-width="0.16">LIF</text>
<text transform="translate(183.93,38.6) rotate(-90)" font-size="6.45" fill="#111" stroke="#111" stroke-width="0.16">M-CSF</text>
<text transform="translate(192.76,38.6) rotate(-90)" font-size="6.45" fill="#111" stroke="#111" stroke-width="0.16">KC</text>
<text transform="translate(201.60,38.6) rotate(-90)" font-size="6.45" fill="#111" stroke="#111" stroke-width="0.16">VEGF</text>
<text transform="translate(210.43,38.6) rotate(-90)" font-size="6.45" fill="#111" stroke="#111" stroke-width="0.16">IL-10</text>
<text transform="translate(219.26,38.6) rotate(-90)" font-size="6.45" fill="#111" stroke="#111" stroke-width="0.16">IL-3</text>
<text transform="translate(228.10,38.6) rotate(-90)" font-size="6.45" fill="#111" stroke="#111" stroke-width="0.16">IL1b</text>
<text transform="translate(236.93,38.6) rotate(-90)" font-size="6.45" fill="#111" stroke="#111" stroke-width="0.16">IL-9</text>
<text transform="translate(245.77,38.6) rotate(-90)" font-size="6.45" fill="#111" stroke="#111" stroke-width="0.16">MCP-1</text>
<text transform="translate(254.60,38.6) rotate(-90)" font-size="6.45" fill="#111" stroke="#111" stroke-width="0.16">GM-CSF</text>
<text transform="translate(263.44,38.6) rotate(-90)" font-size="6.45" fill="#111" stroke="#111" stroke-width="0.16">IL-4</text>
<text transform="translate(272.27,38.6) rotate(-90)" font-size="6.45" fill="#111" stroke="#111" stroke-width="0.16">IL-5</text>
<text transform="translate(281.10,38.6) rotate(-90)" font-size="6.45" fill="#111" stroke="#111" stroke-width="0.16">IL-12p70</text>
<text transform="translate(289.94,38.6) rotate(-90)" font-size="6.45" fill="#111" stroke="#111" stroke-width="0.16">MIP-1a</text>
<text transform="translate(298.77,38.6) rotate(-90)" font-size="6.45" fill="#111" stroke="#111" stroke-width="0.16">IFN-gamma</text>
<text transform="translate(307.61,38.6) rotate(-90)" font-size="6.45" fill="#111" stroke="#111" stroke-width="0.16">TNF-a</text>
<text transform="translate(316.44,38.6) rotate(-90)" font-size="6.45" fill="#111" stroke="#111" stroke-width="0.16">IL-2</text>
<text transform="translate(325.28,38.6) rotate(-90)" font-size="6.45" fill="#111" stroke="#111" stroke-width="0.16">IL-17A</text>
<text transform="translate(334.11,38.6) rotate(-90)" font-size="6.45" fill="#111" stroke="#111" stroke-width="0.16">IL-13</text>
<text transform="translate(342.95,38.6) rotate(-90)" font-size="6.45" fill="#111" stroke="#111" stroke-width="0.16">MIP-1B</text>
<text transform="translate(351.78,38.6) rotate(-90)" font-size="6.45" fill="#111" stroke="#111" stroke-width="0.16">IL12p40</text>
<text transform="translate(360.61,38.6) rotate(-90)" font-size="6.45" fill="#111" stroke="#111" stroke-width="0.16">G-CSF</text>
<text transform="translate(369.45,38.6) rotate(-90)" font-size="6.45" fill="#111" stroke="#111" stroke-width="0.16">IL-1a</text>
<text transform="translate(378.28,38.6) rotate(-90)" font-size="6.45" fill="#111" stroke="#111" stroke-width="0.16">IL-6</text>
<text x="386.4" y="49.05" font-size="6.45" fill="#111" stroke="#111" stroke-width="0.16">IL-6</text>
<text x="386.4" y="56.35" font-size="6.45" fill="#111" stroke="#111" stroke-width="0.16">IL-1a</text>
<text x="386.4" y="63.64" font-size="6.45" fill="#111" stroke="#111" stroke-width="0.16">G-CSF</text>
<text x="386.4" y="70.94" font-size="6.45" fill="#111" stroke="#111" stroke-width="0.16">IL12p40</text>
<text x="386.4" y="78.24" font-size="6.45" fill="#111" stroke="#111" stroke-width="0.16">MIP-1B</text>
<text x="386.4" y="85.53" font-size="6.45" fill="#111" stroke="#111" stroke-width="0.16">IL-13</text>
<text x="386.4" y="92.83" font-size="6.45" fill="#111" stroke="#111" stroke-width="0.16">IL-17A</text>
<text x="386.4" y="100.13" font-size="6.45" fill="#111" stroke="#111" stroke-width="0.16">IL-2</text>
<text x="386.4" y="107.42" font-size="6.45" fill="#111" stroke="#111" stroke-width="0.16">TNF-a</text>
<text x="386.4" y="114.72" font-size="6.45" fill="#111" stroke="#111" stroke-width="0.16">IFN-gamma</text>
<text x="386.4" y="122.02" font-size="6.45" fill="#111" stroke="#111" stroke-width="0.16">MIP-1a</text>
<text x="386.4" y="129.31" font-size="6.45" fill="#111" stroke="#111" stroke-width="0.16">IL-12p70</text>
<text x="386.4" y="136.61" font-size="6.45" fill="#111" stroke="#111" stroke-width="0.16">IL-5</text>
<text x="386.4" y="143.91" font-size="6.45" fill="#111" stroke="#111" stroke-width="0.16">IL-4</text>
<text x="386.4" y="151.20" font-size="6.45" fill="#111" stroke="#111" stroke-width="0.16">GM-CSF</text>
<text x="386.4" y="158.50" font-size="6.45" fill="#111" stroke="#111" stroke-width="0.16">MCP-1</text>
<text x="386.4" y="165.80" font-size="6.45" fill="#111" stroke="#111" stroke-width="0.16">IL-9</text>
<text x="386.4" y="173.10" font-size="6.45" fill="#111" stroke="#111" stroke-width="0.16">IL1b</text>
<text x="386.4" y="180.39" font-size="6.45" fill="#111" stroke="#111" stroke-width="0.16">IL-3</text>
<text x="386.4" y="187.69" font-size="6.45" fill="#111" stroke="#111" stroke-width="0.16">IL-10</text>
<text x="386.4" y="194.99" font-size="6.45" fill="#111" stroke="#111" stroke-width="0.16">VEGF</text>
<text x="386.4" y="202.28" font-size="6.45" fill="#111" stroke="#111" stroke-width="0.16">KC</text>
<text x="386.4" y="209.58" font-size="6.45" fill="#111" stroke="#111" stroke-width="0.16">M-CSF</text>
<text x="386.4" y="216.88" font-size="6.45" fill="#111" stroke="#111" stroke-width="0.16">LIF</text>
<text x="386.4" y="224.17" font-size="6.45" fill="#111" stroke="#111" stroke-width="0.16">Basic FGF</text>
<text x="386.4" y="231.47" font-size="6.45" fill="#111" stroke="#111" stroke-width="0.16">PDGF-BB</text>
<text x="386.4" y="238.77" font-size="6.45" fill="#111" stroke="#111" stroke-width="0.16">IL-15</text>
<text x="386.4" y="246.06" font-size="6.45" fill="#111" stroke="#111" stroke-width="0.16">IL-18</text>
<text x="386.4" y="253.36" font-size="6.45" fill="#111" stroke="#111" stroke-width="0.16">MIG</text>
<text x="386.4" y="260.66" font-size="6.45" fill="#111" stroke="#111" stroke-width="0.16">MIP-2</text>
<text x="386.4" y="267.95" font-size="6.45" fill="#111" stroke="#111" stroke-width="0.16">RANTES</text>
<text x="386.4" y="275.25" font-size="6.45" fill="#111" stroke="#111" stroke-width="0.16">Eotaxin</text>
<path d="M73.00,47.05H69.40V54.35H73.00 M73.00,61.64H72.00V68.94H73.00 M69.40,50.70H64.00V65.29H72.00 M64.00,57.99H55.20V76.24H73.00 M55.20,67.11H48.50V83.53H73.00 M73.00,90.83H69.00V98.13H73.00 M48.50,75.32H28.60V94.48H69.00 M73.00,105.42H73.00V112.72H73.00 M73.00,109.07H72.20V120.02H73.00 M73.00,127.31H73.00V134.61H73.00 M73.00,130.96H72.20V141.91H73.00 M72.20,114.54H68.60V136.44H72.20 M68.60,125.49H61.60V149.20H73.00 M61.60,137.35H53.30V156.50H73.00 M73.00,163.80H72.30V171.10H73.00 M72.30,167.45H69.70V178.39H73.00 M69.70,172.92H65.90V185.69H73.00 M53.30,146.92H46.00V179.30H65.90 M73.00,192.99H59.60V200.28H73.00 M59.60,196.63H48.30V207.58H73.00 M73.00,214.88H73.20V222.17H73.00 M73.00,229.47H73.20V236.77H73.00 M73.20,218.52H72.90V233.12H73.20 M72.90,225.82H71.90V244.06H73.00 M71.90,234.94H68.60V251.36H73.00 M68.60,243.15H59.50V258.66H73.00 M73.00,265.95H68.10V273.25H73.00 M59.50,250.90H52.40V269.60H68.10 M48.30,202.11H28.40V260.25H52.40 M46.00,163.11H26.95V231.18H28.40 M28.60,84.90H26.85V197.15H26.95" fill="none" stroke="#62c662" stroke-width="1.15"/>
<rect x="444.2" y="43.0" width="27.8" height="234.2" fill="url(#cb)"/>
<rect x="472.8" y="42.55" width="3.2" height="0.9" fill="#333"/>
<text x="478.9" y="45.60" font-size="7.3" fill="#222" stroke="#222" stroke-width="0.1">1.0</text>
<rect x="472.8" y="89.39" width="3.2" height="0.9" fill="#333"/>
<text x="478.9" y="92.44" font-size="7.3" fill="#222" stroke="#222" stroke-width="0.1">0.8</text>
<rect x="472.8" y="136.23" width="3.2" height="0.9" fill="#333"/>
<text x="478.9" y="139.28" font-size="7.3" fill="#222" stroke="#222" stroke-width="0.1">0.6</text>
<rect x="472.8" y="183.07" width="3.2" height="0.9" fill="#333"/>
<text x="478.9" y="186.12" font-size="7.3" fill="#222" stroke="#222" stroke-width="0.1">0.4</text>
<rect x="472.8" y="229.91" width="3.2" height="0.9" fill="#333"/>
<text x="478.9" y="232.96" font-size="7.3" fill="#222" stroke="#222" stroke-width="0.1">0.2</text>
<rect x="472.8" y="276.75" width="3.2" height="0.9" fill="#333"/>
<text x="478.9" y="279.80" font-size="7.3" fill="#222" stroke="#222" stroke-width="0.1">0.0</text>
<text transform="translate(508.9,160.2) rotate(-90)" text-anchor="middle" font-size="8.9" fill="#222">Pairwise reliability score</text>
<text transform="translate(17.6,160.0) rotate(-90)" text-anchor="middle" font-size="8.9" fill="#222">Adjusted cytokine modules</text>
<rect x="11.6" y="277.55" width="18.1" height="6.6" fill="#8dd3c7" stroke="#7a7a7a" stroke-width="0.7"/>
<text x="32.9" y="283.40" font-size="6.4" fill="#222">PM1</text>
<rect x="11.6" y="290.60" width="18.1" height="6.6" fill="#ffffb3" stroke="#7a7a7a" stroke-width="0.7"/>
<text x="32.9" y="296.45" font-size="6.4" fill="#222">PM2</text>
<rect x="11.6" y="303.65" width="18.1" height="6.6" fill="#bebada" stroke="#7a7a7a" stroke-width="0.7"/>
<text x="32.9" y="309.50" font-size="6.4" fill="#222">PM3</text>
<rect x="11.6" y="316.70" width="18.1" height="6.6" fill="#fb8072" stroke="#7a7a7a" stroke-width="0.7"/>
<text x="32.9" y="322.55" font-size="6.4" fill="#222">PM4</text>
<rect x="11.6" y="329.75" width="18.1" height="6.6" fill="#80b1d3" stroke="#7a7a7a" stroke-width="0.7"/>
<text x="32.9" y="335.60" font-size="6.4" fill="#222">PM5</text>
<text x="7.7" y="15.6" font-size="10.8" font-weight="bold" fill="#000">A</text>
<text x="7.9" y="356.6" font-size="10.8" font-weight="bold" fill="#000">B</text>
<rect x="50.8" y="357.0" width="409.2" height="19.6" fill="#0f5284"/>
<text x="255.40" y="370.0" text-anchor="middle" font-size="8.85" font-weight="bold" fill="#fff">Associations between PM5 cytokine module and immune cell outcomes</text>
<rect x="50.8" y="378.3" width="164.50" height="19.5" fill="#89a8c2"/>
<text x="133.05" y="391.0" text-anchor="middle" font-size="8.9" font-weight="bold" fill="#000">Outcome</text>
<rect x="217.0" y="378.3" width="67.60" height="19.5" fill="#89a8c2"/>
<text x="250.80" y="391.0" text-anchor="middle" font-size="8.9" font-weight="bold" fill="#000">Coefficient</text>
<rect x="286.2" y="378.3" width="56.90" height="19.5" fill="#89a8c2"/>
<text x="314.65" y="391.0" text-anchor="middle" font-size="8.9" font-weight="bold" fill="#000">P-value</text>
<rect x="344.8" y="378.3" width="57.60" height="19.5" fill="#89a8c2"/>
<text x="373.60" y="391.0" text-anchor="middle" font-size="8.9" font-weight="bold" fill="#000">FWER</text>
<rect x="404.1" y="378.3" width="55.90" height="19.5" fill="#89a8c2"/>
<text x="432.05" y="391.0" text-anchor="middle" font-size="8.9" font-weight="bold" fill="#000">FDR</text>
<rect x="50.8" y="399.60" width="164.50" height="19.6" fill="#c4d4e1"/>
<rect x="217.0" y="399.60" width="67.60" height="19.6" fill="#c4d4e1"/>
<rect x="286.2" y="399.60" width="56.90" height="19.6" fill="#c4d4e1"/>
<rect x="344.8" y="399.60" width="57.60" height="19.6" fill="#c4d4e1"/>
<rect x="404.1" y="399.60" width="55.90" height="19.6" fill="#c4d4e1"/>
<text x="61.5" y="411.80" font-size="8.8" font-weight="bold" fill="#000">Absolute BM B cell count</text>
<text x="278.20" y="411.80" text-anchor="end" font-size="8.8" fill="#111">−18.563</text>
<text x="336.70" y="411.80" text-anchor="end" font-size="8.8" fill="#111">4.62E-06</text>
<text x="396.00" y="411.80" text-anchor="end" font-size="8.8" font-weight="bold" fill="#111">2.31E-04</text>
<text x="453.60" y="411.80" text-anchor="end" font-size="8.8" fill="#111">9.53E-05</text>
<rect x="50.8" y="420.85" width="164.50" height="19.6" fill="#c4d4e1"/>
<rect x="217.0" y="420.85" width="67.60" height="19.6" fill="#c4d4e1"/>
<rect x="286.2" y="420.85" width="56.90" height="19.6" fill="#c4d4e1"/>
<rect x="344.8" y="420.85" width="57.60" height="19.6" fill="#c4d4e1"/>
<rect x="404.1" y="420.85" width="55.90" height="19.6" fill="#c4d4e1"/>
<text x="61.5" y="433.05" font-size="8.8" font-weight="bold" fill="#000">Absolute BM pre-B cell count</text>
<text x="278.20" y="433.05" text-anchor="end" font-size="8.8" fill="#111">−13.229</text>
<text x="336.70" y="433.05" text-anchor="end" font-size="8.8" fill="#111">5.56E-06</text>
<text x="396.00" y="433.05" text-anchor="end" font-size="8.8" font-weight="bold" fill="#111">2.72E-04</text>
<text x="453.60" y="433.05" text-anchor="end" font-size="8.8" fill="#111">9.53E-05</text>
<rect x="50.8" y="442.10" width="164.50" height="19.6" fill="#c4d4e1"/>
<rect x="217.0" y="442.10" width="67.60" height="19.6" fill="#c4d4e1"/>
<rect x="286.2" y="442.10" width="56.90" height="19.6" fill="#c4d4e1"/>
<rect x="344.8" y="442.10" width="57.60" height="19.6" fill="#c4d4e1"/>
<rect x="404.1" y="442.10" width="55.90" height="19.6" fill="#c4d4e1"/>
<text x="61.5" y="454.30" font-size="8.8" font-weight="bold" fill="#000">Absolute PB neutrophil count</text>
<text x="278.20" y="454.30" text-anchor="end" font-size="8.8" fill="#111">2.030</text>
<text x="336.70" y="454.30" text-anchor="end" font-size="8.8" fill="#111">5.72E-06</text>
<text x="396.00" y="454.30" text-anchor="end" font-size="8.8" font-weight="bold" fill="#111">2.75E-04</text>
<text x="453.60" y="454.30" text-anchor="end" font-size="8.8" fill="#111">9.53E-05</text>
<rect x="50.8" y="463.35" width="164.50" height="19.6" fill="#c4d4e1"/>
<rect x="217.0" y="463.35" width="67.60" height="19.6" fill="#c4d4e1"/>
<rect x="286.2" y="463.35" width="56.90" height="19.6" fill="#c4d4e1"/>
<rect x="344.8" y="463.35" width="57.60" height="19.6" fill="#c4d4e1"/>
<rect x="404.1" y="463.35" width="55.90" height="19.6" fill="#c4d4e1"/>
<text x="61.5" y="475.55" font-size="8.8" font-weight="bold" fill="#000">Absolute BM MR B cell count</text>
<text x="278.20" y="475.55" text-anchor="end" font-size="8.8" fill="#111">−3.284</text>
<text x="336.70" y="475.55" text-anchor="end" font-size="8.8" fill="#111">1.68E-05</text>
<text x="396.00" y="475.55" text-anchor="end" font-size="8.8" font-weight="bold" fill="#111">7.91E-04</text>
<text x="453.60" y="475.55" text-anchor="end" font-size="8.8" fill="#111">2.10E-04</text>
<rect x="50.8" y="484.60" width="164.50" height="19.6" fill="#c4d4e1"/>
<rect x="217.0" y="484.60" width="67.60" height="19.6" fill="#c4d4e1"/>
<rect x="286.2" y="484.60" width="56.90" height="19.6" fill="#c4d4e1"/>
<rect x="344.8" y="484.60" width="57.60" height="19.6" fill="#c4d4e1"/>
<rect x="404.1" y="484.60" width="55.90" height="19.6" fill="#c4d4e1"/>
<text x="61.5" y="496.80" font-size="8.8" font-weight="bold" fill="#000">%H2AX+ of BM B cells</text>
<text x="278.20" y="496.80" text-anchor="end" font-size="8.8" fill="#111">2.858</text>
<text x="336.70" y="496.80" text-anchor="end" font-size="8.8" fill="#111">8.17E-04</text>
<text x="396.00" y="496.80" text-anchor="end" font-size="8.8" font-weight="bold" fill="#111">0.0376</text>
<text x="453.60" y="496.80" text-anchor="end" font-size="8.8" fill="#111">0.0082</text>
<rect x="50.8" y="505.85" width="164.50" height="19.6" fill="#c4d4e1"/>
<rect x="217.0" y="505.85" width="67.60" height="19.6" fill="#c4d4e1"/>
<rect x="286.2" y="505.85" width="56.90" height="19.6" fill="#c4d4e1"/>
<rect x="344.8" y="505.85" width="57.60" height="19.6" fill="#c4d4e1"/>
<rect x="404.1" y="505.85" width="55.90" height="19.6" fill="#c4d4e1"/>
<text x="61.5" y="518.05" font-size="8.8" fill="#000">Absolute BM neutrophil count</text>
<text x="278.20" y="518.05" text-anchor="end" font-size="8.8" fill="#111">0.289</text>
<text x="336.70" y="518.05" text-anchor="end" font-size="8.8" fill="#111">0.0032</text>
<text x="396.00" y="518.05" text-anchor="end" font-size="8.8" fill="#111">0.1419</text>
<text x="453.60" y="518.05" text-anchor="end" font-size="8.8" fill="#111">0.0263</text>
<rect x="50.8" y="527.10" width="164.50" height="19.6" fill="#c4d4e1"/>
<rect x="217.0" y="527.10" width="67.60" height="19.6" fill="#c4d4e1"/>
<rect x="286.2" y="527.10" width="56.90" height="19.6" fill="#c4d4e1"/>
<rect x="344.8" y="527.10" width="57.60" height="19.6" fill="#c4d4e1"/>
<rect x="404.1" y="527.10" width="55.90" height="19.6" fill="#c4d4e1"/>
<text x="61.5" y="539.30" font-size="8.8" fill="#000">Absolute BM monocyte count</text>
<text x="278.20" y="539.30" text-anchor="end" font-size="8.8" fill="#111">0.043</text>
<text x="336.70" y="539.30" text-anchor="end" font-size="8.8" fill="#111">0.0065</text>
<text x="396.00" y="539.30" text-anchor="end" font-size="8.8" fill="#111">0.2882</text>
<text x="453.60" y="539.30" text-anchor="end" font-size="8.8" fill="#111">0.0468</text>
</svg>
<div class="frame"></div>
</body></html>
